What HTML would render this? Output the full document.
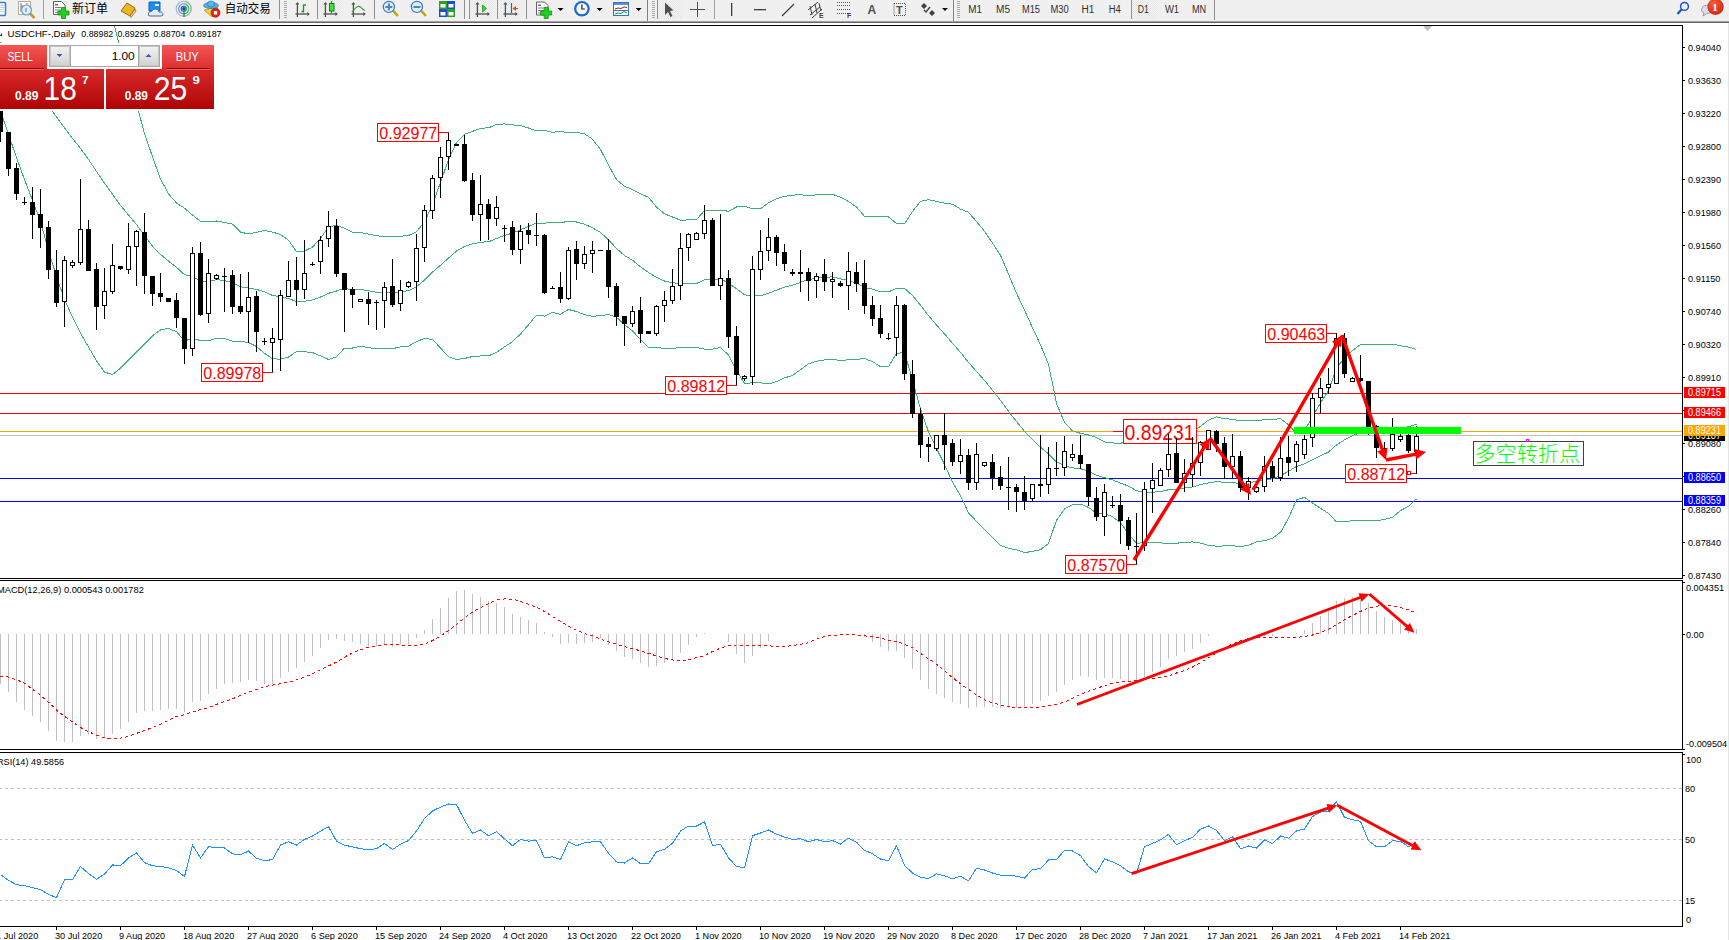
<!DOCTYPE html>
<html><head><meta charset="utf-8"><title>USDCHF Daily</title><style>html,body{margin:0;padding:0;background:#fff;}body{width:1729px;height:940px;overflow:hidden;position:relative;font-family:"Liberation Sans","Noto Sans CJK SC",sans-serif;}</style></head><body>
<svg width="1729" height="940" viewBox="0 0 1729 940" style="position:absolute;left:0;top:0;display:block">
<defs><clipPath id="cm"><rect x="0" y="26" width="1682" height="552"/></clipPath><clipPath id="cmacd"><rect x="0" y="581" width="1682" height="168"/></clipPath><clipPath id="crsi"><rect x="0" y="753" width="1682" height="173"/></clipPath><linearGradient id="gTab" x1="0" y1="0" x2="0" y2="1"><stop offset="0" stop-color="#f45656"/><stop offset="1" stop-color="#dc2e2e"/></linearGradient><linearGradient id="gBig" x1="0" y1="0" x2="0" y2="1"><stop offset="0" stop-color="#d82a2a"/><stop offset="1" stop-color="#b00404"/></linearGradient><linearGradient id="gBtn" x1="0" y1="0" x2="0" y2="1"><stop offset="0" stop-color="#f2f2f2"/><stop offset="1" stop-color="#d2d2d2"/></linearGradient><pattern id="chk" width="2" height="2" patternUnits="userSpaceOnUse"><rect width="2" height="2" fill="#f4f4f4"/><rect width="1" height="1" fill="#e6e6e6"/><rect x="1" y="1" width="1" height="1" fill="#e6e6e6"/></pattern><radialGradient id="gBadge" cx="0.4" cy="0.3" r="0.8"><stop offset="0" stop-color="#f0603a"/><stop offset="1" stop-color="#d01e10"/></radialGradient></defs>
<rect x="0" y="0" width="1729" height="940" fill="#ffffff"/>
<g clip-path="url(#cm)">
<g shape-rendering="crispEdges">
<rect x="0" y="393" width="1682" height="1" fill="#ff0000"/>
<rect x="0" y="413" width="1682" height="1" fill="#ff0000"/>
<rect x="0" y="431" width="1682" height="1" fill="#ffa500"/>
<rect x="0" y="478" width="1682" height="1" fill="#0000ff"/>
<rect x="0" y="501" width="1682" height="1" fill="#0000ff"/>
<rect x="0" y="435" width="1682" height="1" fill="#c0c0c0"/>
</g>
<polyline points="0.5,-259.5 8.5,-239.5 16.5,-219.5 24.5,-199.5 32.5,-179.5 40.5,-159.5 48.5,-139.5 56.5,-119.5 64.5,-99.5 72.5,-79.5 80.5,-59.5 88.5,-39.5 96.5,-19.5 104.5,0.5 112.5,18.5 120.5,49.3 128.5,76.5 136.5,103.5 144.5,133.5 152.5,156.7 160.5,179.0 168.5,193.8 176.5,203.0 184.5,208.2 192.5,215.0 200.5,221.3 208.5,221.5 216.5,221.0 224.5,222.4 232.5,224.1 240.5,232.2 248.5,233.8 256.5,232.3 264.5,230.4 272.5,232.1 280.5,234.5 288.5,240.1 296.5,251.5 304.5,251.0 312.5,247.1 320.5,238.2 328.5,227.0 336.5,225.4 344.5,228.1 352.5,232.2 360.5,232.4 368.5,234.1 376.5,235.7 384.5,236.7 392.5,236.7 400.5,236.3 408.5,235.5 416.5,231.8 424.5,221.8 432.5,204.9 440.5,182.4 448.5,159.7 456.5,142.4 464.5,134.2 472.5,131.4 480.5,128.3 488.5,127.8 496.5,124.5 504.5,123.9 512.5,124.8 520.5,125.7 528.5,128.0 536.5,130.9 544.5,130.4 552.5,132.3 560.5,131.4 568.5,132.9 576.5,132.5 584.5,133.8 592.5,139.2 600.5,149.5 608.5,165.0 616.5,179.5 624.5,186.3 632.5,189.6 640.5,193.9 648.5,197.3 656.5,207.0 664.5,213.8 672.5,217.0 680.5,220.2 688.5,219.9 696.5,219.6 704.5,210.6 712.5,210.6 720.5,210.1 728.5,211.3 736.5,207.0 744.5,206.2 752.5,208.8 760.5,208.8 768.5,202.7 776.5,198.6 784.5,196.4 792.5,195.1 800.5,194.8 808.5,195.5 816.5,194.9 824.5,194.6 832.5,194.3 840.5,197.2 848.5,201.5 856.5,207.0 864.5,216.3 872.5,216.6 880.5,217.0 888.5,216.9 896.5,223.5 904.5,223.9 912.5,211.5 920.5,201.4 928.5,199.6 936.5,201.4 944.5,203.2 952.5,204.2 960.5,209.1 968.5,212.3 976.5,221.5 984.5,231.3 992.5,243.0 1000.5,255.3 1008.5,274.0 1016.5,293.2 1024.5,310.1 1032.5,327.8 1040.5,344.8 1048.5,364.2 1056.5,403.4 1064.5,422.5 1072.5,430.9 1080.5,433.3 1088.5,435.0 1096.5,437.6 1104.5,441.9 1112.5,442.9 1120.5,443.7 1128.5,438.2 1136.5,438.5 1144.5,441.4 1152.5,441.7 1160.5,440.1 1168.5,435.9 1176.5,435.4 1184.5,433.9 1192.5,431.8 1200.5,426.3 1208.5,420.1 1216.5,416.9 1224.5,418.8 1232.5,419.2 1240.5,420.9 1248.5,420.4 1256.5,420.9 1264.5,419.5 1272.5,419.3 1280.5,418.8 1288.5,424.7 1296.5,433.0 1304.5,430.4 1312.5,416.7 1320.5,402.8 1328.5,390.8 1336.5,367.9 1344.5,358.3 1352.5,350.6 1360.5,344.5 1368.5,344.3 1376.5,344.4 1384.5,344.6 1392.5,344.2 1400.5,345.7 1408.5,347.1 1416.5,349.4" fill="none" stroke="#3cb371" stroke-width="1" shape-rendering="crispEdges"/>
<polyline points="0.5,42.5 8.5,53.1 16.5,63.7 24.5,74.3 32.5,84.9 40.5,95.5 48.5,106.1 56.5,116.9 64.5,128.0 72.5,138.4 80.5,148.4 88.5,159.4 96.5,171.5 104.5,183.1 112.5,194.3 120.5,205.4 128.5,215.0 136.5,224.6 144.5,235.6 152.5,246.2 160.5,254.4 168.5,261.1 176.5,267.3 184.5,274.7 192.5,276.6 200.5,281.0 208.5,281.1 216.5,279.7 224.5,280.5 232.5,282.7 240.5,286.8 248.5,288.1 256.5,289.4 264.5,291.9 272.5,295.5 280.5,296.8 288.5,298.5 296.5,301.5 304.5,301.3 312.5,299.9 320.5,297.0 328.5,293.3 336.5,291.0 344.5,288.1 352.5,290.1 360.5,289.3 368.5,290.8 376.5,292.2 384.5,292.8 392.5,292.7 400.5,291.6 408.5,290.8 416.5,286.7 424.5,280.1 432.5,272.1 440.5,265.2 448.5,258.2 456.5,251.0 464.5,246.4 472.5,243.9 480.5,242.2 488.5,241.8 496.5,238.5 504.5,235.4 512.5,233.2 520.5,229.8 528.5,226.4 536.5,223.0 544.5,223.2 552.5,222.4 560.5,222.8 568.5,221.2 576.5,222.0 584.5,224.2 592.5,227.8 600.5,232.5 608.5,239.8 616.5,248.4 624.5,255.5 632.5,260.3 640.5,266.8 648.5,272.5 656.5,277.4 664.5,281.0 672.5,282.8 680.5,283.6 688.5,283.6 696.5,283.5 704.5,279.9 712.5,279.8 720.5,278.8 728.5,283.2 736.5,288.7 744.5,294.8 752.5,295.8 760.5,295.8 768.5,293.3 776.5,290.1 784.5,287.1 792.5,285.3 800.5,282.3 808.5,279.6 816.5,278.1 824.5,277.2 832.5,276.9 840.5,278.8 848.5,280.6 856.5,283.2 864.5,287.4 872.5,289.1 880.5,291.9 888.5,291.9 896.5,288.4 904.5,288.3 912.5,295.6 920.5,305.2 928.5,315.7 936.5,324.9 944.5,333.9 952.5,343.3 960.5,352.4 968.5,362.5 976.5,371.4 984.5,380.4 992.5,390.4 1000.5,400.4 1008.5,411.2 1016.5,421.6 1024.5,431.3 1032.5,439.6 1040.5,447.3 1048.5,453.8 1056.5,461.9 1064.5,465.8 1072.5,467.8 1080.5,468.7 1088.5,471.2 1096.5,475.3 1104.5,477.7 1112.5,479.9 1120.5,483.1 1128.5,486.2 1136.5,490.8 1144.5,492.1 1152.5,492.3 1160.5,491.5 1168.5,489.8 1176.5,489.4 1184.5,488.0 1192.5,486.9 1200.5,484.7 1208.5,482.8 1216.5,481.6 1224.5,482.4 1232.5,482.5 1240.5,483.7 1248.5,482.9 1256.5,481.4 1264.5,480.1 1272.5,478.8 1280.5,475.6 1288.5,471.4 1296.5,466.4 1304.5,463.9 1312.5,459.8 1320.5,455.6 1328.5,452.1 1336.5,444.9 1344.5,439.9 1352.5,435.7 1360.5,432.6 1368.5,432.5 1376.5,432.7 1384.5,431.9 1392.5,430.8 1400.5,428.2 1408.5,426.7 1416.5,424.1" fill="none" stroke="#3cb371" stroke-width="1" shape-rendering="crispEdges"/>
<polyline points="0.5,111.3 8.5,134.4 16.5,157.5 24.5,179.5 32.5,200.4 40.5,221.4 48.5,250.6 56.5,276.6 64.5,299.5 72.5,317.1 80.5,333.0 88.5,347.0 96.5,360.9 104.5,372.1 112.5,374.5 120.5,368.2 128.5,360.2 136.5,352.2 144.5,344.2 152.5,335.8 160.5,329.9 168.5,328.4 176.5,331.7 184.5,341.1 192.5,338.2 200.5,340.6 208.5,340.6 216.5,338.4 224.5,338.5 232.5,341.3 240.5,341.5 248.5,342.5 256.5,346.5 264.5,353.3 272.5,358.9 280.5,359.1 288.5,357.0 296.5,351.5 304.5,351.7 312.5,352.6 320.5,355.9 328.5,359.5 336.5,356.7 344.5,348.0 352.5,348.0 360.5,346.2 368.5,347.6 376.5,348.8 384.5,348.9 392.5,348.7 400.5,346.9 408.5,346.2 416.5,341.5 424.5,338.5 432.5,339.4 440.5,348.0 448.5,356.7 456.5,359.5 464.5,358.5 472.5,356.5 480.5,356.0 488.5,355.9 496.5,352.5 504.5,346.9 512.5,341.6 520.5,333.9 528.5,324.8 536.5,315.1 544.5,316.1 552.5,312.4 560.5,314.3 568.5,309.5 576.5,311.5 584.5,314.7 592.5,316.4 600.5,315.5 608.5,314.6 616.5,317.3 624.5,324.7 632.5,331.0 640.5,339.6 648.5,347.7 656.5,347.8 664.5,348.2 672.5,348.6 680.5,347.1 688.5,347.3 696.5,347.4 704.5,349.2 712.5,349.1 720.5,347.5 728.5,355.0 736.5,370.4 744.5,383.4 752.5,382.8 760.5,382.8 768.5,383.9 776.5,381.6 784.5,377.9 792.5,375.5 800.5,369.7 808.5,363.7 816.5,361.3 824.5,359.9 832.5,359.4 840.5,360.4 848.5,359.8 856.5,359.4 864.5,358.6 872.5,361.5 880.5,366.7 888.5,366.8 896.5,353.3 904.5,352.7 912.5,379.6 920.5,409.1 928.5,431.8 936.5,448.4 944.5,464.6 952.5,482.3 960.5,495.7 968.5,512.8 976.5,521.3 984.5,529.6 992.5,537.8 1000.5,545.5 1008.5,548.3 1016.5,549.9 1024.5,552.6 1032.5,551.4 1040.5,549.7 1048.5,543.4 1056.5,520.4 1064.5,509.0 1072.5,504.6 1080.5,504.1 1088.5,507.4 1096.5,513.1 1104.5,513.4 1112.5,516.8 1120.5,522.5 1128.5,534.2 1136.5,543.1 1144.5,542.9 1152.5,542.9 1160.5,542.9 1168.5,543.7 1176.5,543.3 1184.5,542.1 1192.5,542.0 1200.5,543.1 1208.5,545.4 1216.5,546.2 1224.5,545.9 1232.5,545.8 1240.5,546.5 1248.5,545.4 1256.5,541.8 1264.5,540.7 1272.5,538.2 1280.5,532.4 1288.5,518.2 1296.5,499.8 1304.5,497.4 1312.5,502.9 1320.5,508.4 1328.5,513.4 1336.5,521.9 1344.5,521.6 1352.5,520.7 1360.5,520.7 1368.5,520.6 1376.5,521.0 1384.5,519.3 1392.5,517.4 1400.5,510.6 1408.5,506.2 1416.5,498.9" fill="none" stroke="#3cb371" stroke-width="1" shape-rendering="crispEdges"/>
<rect x="377.5" y="123.5" width="61" height="18" fill="#fff" stroke="#ff0000" stroke-width="1" shape-rendering="crispEdges"/>
<rect x="439" y="132" width="10" height="1" fill="#ff0000" shape-rendering="crispEdges"/>
<text x="379.3" y="139.3" font-size="16.5" fill="#ff0000" textLength="58" lengthAdjust="spacingAndGlyphs" font-family="&quot;Liberation Sans&quot;, sans-serif">0.92977</text>
<rect x="201.5" y="363.5" width="61" height="18" fill="#fff" stroke="#ff0000" stroke-width="1" shape-rendering="crispEdges"/>
<rect x="263" y="372" width="10" height="1" fill="#ff0000" shape-rendering="crispEdges"/>
<text x="203.3" y="379.3" font-size="16.5" fill="#ff0000" textLength="58" lengthAdjust="spacingAndGlyphs" font-family="&quot;Liberation Sans&quot;, sans-serif">0.89978</text>
<rect x="665.5" y="376.5" width="61" height="18" fill="#fff" stroke="#ff0000" stroke-width="1" shape-rendering="crispEdges"/>
<rect x="727" y="385" width="10" height="1" fill="#ff0000" shape-rendering="crispEdges"/>
<text x="667.3" y="392.3" font-size="16.5" fill="#ff0000" textLength="58" lengthAdjust="spacingAndGlyphs" font-family="&quot;Liberation Sans&quot;, sans-serif">0.89812</text>
<rect x="1065.5" y="555.5" width="61" height="18" fill="#fff" stroke="#ff0000" stroke-width="1" shape-rendering="crispEdges"/>
<rect x="1127" y="564" width="10" height="1" fill="#ff0000" shape-rendering="crispEdges"/>
<text x="1067.3" y="571.3" font-size="16.5" fill="#ff0000" textLength="58" lengthAdjust="spacingAndGlyphs" font-family="&quot;Liberation Sans&quot;, sans-serif">0.87570</text>
<rect x="1265.5" y="324.5" width="61" height="18" fill="#fff" stroke="#ff0000" stroke-width="1" shape-rendering="crispEdges"/>
<rect x="1327" y="333" width="10" height="1" fill="#ff0000" shape-rendering="crispEdges"/>
<text x="1267.3" y="340.3" font-size="16.5" fill="#ff0000" textLength="58" lengthAdjust="spacingAndGlyphs" font-family="&quot;Liberation Sans&quot;, sans-serif">0.90463</text>
<rect x="1345.5" y="464.5" width="61" height="18" fill="#fff" stroke="#ff0000" stroke-width="1" shape-rendering="crispEdges"/>
<rect x="1407" y="473" width="10" height="1" fill="#ff0000" shape-rendering="crispEdges"/>
<text x="1347.3" y="480.3" font-size="16.5" fill="#ff0000" textLength="58" lengthAdjust="spacingAndGlyphs" font-family="&quot;Liberation Sans&quot;, sans-serif">0.88712</text>
<rect x="1113" y="431" width="10" height="1" fill="#ff0000" shape-rendering="crispEdges"/>
<rect x="1123.5" y="419.5" width="73" height="24" fill="#fff" stroke="#ff0000" stroke-width="1" shape-rendering="crispEdges"/>
<text x="1124.6" y="440" font-size="21.5" fill="#ff0000" textLength="70" lengthAdjust="spacingAndGlyphs" font-family="&quot;Liberation Sans&quot;, sans-serif">0.89231</text>
<g shape-rendering="crispEdges">
<rect x="0" y="95" width="1" height="47" fill="#000"/>
<rect x="-2" y="100" width="5" height="32" fill="#000"/>
<rect x="8" y="132" width="1" height="44" fill="#000"/>
<rect x="6" y="132" width="5" height="37" fill="#000"/>
<rect x="16" y="163" width="1" height="37" fill="#000"/>
<rect x="14" y="168" width="5" height="26" fill="#000"/>
<rect x="24" y="197" width="1" height="8" fill="#000"/>
<rect x="22" y="202" width="5" height="1" fill="#000"/>
<rect x="32" y="187" width="1" height="52" fill="#000"/>
<rect x="30" y="202" width="5" height="13" fill="#000"/>
<rect x="40" y="189" width="1" height="59" fill="#000"/>
<rect x="38" y="214" width="5" height="14" fill="#000"/>
<rect x="48" y="221" width="1" height="58" fill="#000"/>
<rect x="46" y="227" width="5" height="43" fill="#000"/>
<rect x="56" y="250" width="1" height="57" fill="#000"/>
<rect x="54" y="270" width="5" height="33" fill="#000"/>
<rect x="64" y="256" width="1" height="71" fill="#000"/>
<rect x="62" y="260" width="5" height="42" fill="#000"/><rect x="63" y="261" width="3" height="40" fill="#fff"/>
<rect x="72" y="260" width="1" height="8" fill="#000"/>
<rect x="70" y="262" width="5" height="4" fill="#000"/><rect x="71" y="263" width="3" height="2" fill="#fff"/>
<rect x="80" y="179" width="1" height="86" fill="#000"/>
<rect x="78" y="229" width="5" height="34" fill="#000"/><rect x="79" y="230" width="3" height="32" fill="#fff"/>
<rect x="88" y="220" width="1" height="51" fill="#000"/>
<rect x="86" y="229" width="5" height="42" fill="#000"/>
<rect x="96" y="263" width="1" height="67" fill="#000"/>
<rect x="94" y="269" width="5" height="38" fill="#000"/>
<rect x="104" y="268" width="1" height="51" fill="#000"/>
<rect x="102" y="291" width="5" height="15" fill="#000"/><rect x="103" y="292" width="3" height="13" fill="#fff"/>
<rect x="112" y="244" width="1" height="50" fill="#000"/>
<rect x="110" y="265" width="5" height="27" fill="#000"/><rect x="111" y="266" width="3" height="25" fill="#fff"/>
<rect x="120" y="266" width="1" height="4" fill="#000"/>
<rect x="118" y="266" width="5" height="3" fill="#000"/>
<rect x="128" y="223" width="1" height="51" fill="#000"/>
<rect x="126" y="246" width="5" height="24" fill="#000"/><rect x="127" y="247" width="3" height="22" fill="#fff"/>
<rect x="136" y="230" width="1" height="56" fill="#000"/>
<rect x="134" y="231" width="5" height="16" fill="#000"/><rect x="135" y="232" width="3" height="14" fill="#fff"/>
<rect x="144" y="213" width="1" height="81" fill="#000"/>
<rect x="142" y="232" width="5" height="44" fill="#000"/>
<rect x="152" y="276" width="1" height="30" fill="#000"/>
<rect x="150" y="276" width="5" height="18" fill="#000"/>
<rect x="160" y="273" width="1" height="29" fill="#000"/>
<rect x="158" y="293" width="5" height="4" fill="#000"/>
<rect x="168" y="298" width="1" height="4" fill="#000"/>
<rect x="166" y="298" width="5" height="4" fill="#000"/>
<rect x="176" y="293" width="1" height="35" fill="#000"/>
<rect x="174" y="300" width="5" height="18" fill="#000"/>
<rect x="184" y="318" width="1" height="46" fill="#000"/>
<rect x="182" y="318" width="5" height="31" fill="#000"/>
<rect x="192" y="247" width="1" height="109" fill="#000"/>
<rect x="190" y="253" width="5" height="96" fill="#000"/><rect x="191" y="254" width="3" height="94" fill="#fff"/>
<rect x="200" y="242" width="1" height="74" fill="#000"/>
<rect x="198" y="253" width="5" height="62" fill="#000"/>
<rect x="208" y="259" width="1" height="64" fill="#000"/>
<rect x="206" y="273" width="5" height="41" fill="#000"/><rect x="207" y="274" width="3" height="39" fill="#fff"/>
<rect x="216" y="274" width="1" height="6" fill="#000"/>
<rect x="214" y="275" width="5" height="4" fill="#000"/><rect x="215" y="276" width="3" height="2" fill="#fff"/>
<rect x="224" y="268" width="1" height="44" fill="#000"/>
<rect x="222" y="276" width="5" height="1" fill="#000"/>
<rect x="232" y="270" width="1" height="44" fill="#000"/>
<rect x="230" y="275" width="5" height="32" fill="#000"/>
<rect x="240" y="274" width="1" height="40" fill="#000"/>
<rect x="238" y="306" width="5" height="6" fill="#000"/>
<rect x="248" y="272" width="1" height="71" fill="#000"/>
<rect x="246" y="297" width="5" height="15" fill="#000"/><rect x="247" y="298" width="3" height="13" fill="#fff"/>
<rect x="256" y="291" width="1" height="61" fill="#000"/>
<rect x="254" y="296" width="5" height="36" fill="#000"/>
<rect x="264" y="338" width="1" height="7" fill="#000"/>
<rect x="262" y="341" width="5" height="1" fill="#000"/>
<rect x="272" y="328" width="1" height="44" fill="#000"/>
<rect x="270" y="338" width="5" height="5" fill="#000"/><rect x="271" y="339" width="3" height="3" fill="#fff"/>
<rect x="280" y="290" width="1" height="81" fill="#000"/>
<rect x="278" y="295" width="5" height="45" fill="#000"/><rect x="279" y="296" width="3" height="43" fill="#fff"/>
<rect x="288" y="261" width="1" height="36" fill="#000"/>
<rect x="286" y="280" width="5" height="17" fill="#000"/><rect x="287" y="281" width="3" height="15" fill="#fff"/>
<rect x="296" y="257" width="1" height="49" fill="#000"/>
<rect x="294" y="280" width="5" height="10" fill="#000"/>
<rect x="304" y="240" width="1" height="59" fill="#000"/>
<rect x="302" y="273" width="5" height="17" fill="#000"/><rect x="303" y="274" width="3" height="15" fill="#fff"/>
<rect x="312" y="262" width="1" height="4" fill="#000"/>
<rect x="310" y="264" width="5" height="1" fill="#000"/>
<rect x="320" y="236" width="1" height="38" fill="#000"/>
<rect x="318" y="240" width="5" height="22" fill="#000"/><rect x="319" y="241" width="3" height="20" fill="#fff"/>
<rect x="328" y="211" width="1" height="36" fill="#000"/>
<rect x="326" y="226" width="5" height="13" fill="#000"/><rect x="327" y="227" width="3" height="11" fill="#fff"/>
<rect x="336" y="219" width="1" height="58" fill="#000"/>
<rect x="334" y="226" width="5" height="48" fill="#000"/>
<rect x="344" y="273" width="1" height="59" fill="#000"/>
<rect x="342" y="273" width="5" height="17" fill="#000"/>
<rect x="352" y="287" width="1" height="21" fill="#000"/>
<rect x="350" y="289" width="5" height="6" fill="#000"/>
<rect x="360" y="299" width="1" height="3" fill="#000"/>
<rect x="358" y="299" width="5" height="3" fill="#000"/><rect x="359" y="300" width="3" height="1" fill="#fff"/>
<rect x="368" y="292" width="1" height="33" fill="#000"/>
<rect x="366" y="299" width="5" height="5" fill="#000"/>
<rect x="376" y="300" width="1" height="30" fill="#000"/>
<rect x="374" y="302" width="5" height="1" fill="#000"/>
<rect x="384" y="282" width="1" height="46" fill="#000"/>
<rect x="382" y="287" width="5" height="14" fill="#000"/><rect x="383" y="288" width="3" height="12" fill="#fff"/>
<rect x="392" y="259" width="1" height="48" fill="#000"/>
<rect x="390" y="286" width="5" height="19" fill="#000"/>
<rect x="400" y="280" width="1" height="31" fill="#000"/>
<rect x="398" y="290" width="5" height="14" fill="#000"/><rect x="399" y="291" width="3" height="12" fill="#fff"/>
<rect x="408" y="281" width="1" height="7" fill="#000"/>
<rect x="406" y="282" width="5" height="5" fill="#000"/><rect x="407" y="283" width="3" height="3" fill="#fff"/>
<rect x="416" y="234" width="1" height="67" fill="#000"/>
<rect x="414" y="248" width="5" height="34" fill="#000"/><rect x="415" y="249" width="3" height="32" fill="#fff"/>
<rect x="424" y="205" width="1" height="57" fill="#000"/>
<rect x="422" y="210" width="5" height="38" fill="#000"/><rect x="423" y="211" width="3" height="36" fill="#fff"/>
<rect x="432" y="175" width="1" height="44" fill="#000"/>
<rect x="430" y="178" width="5" height="33" fill="#000"/><rect x="431" y="179" width="3" height="31" fill="#fff"/>
<rect x="440" y="147" width="1" height="51" fill="#000"/>
<rect x="438" y="157" width="5" height="21" fill="#000"/><rect x="439" y="158" width="3" height="19" fill="#fff"/>
<rect x="448" y="133" width="1" height="37" fill="#000"/>
<rect x="446" y="140" width="5" height="17" fill="#000"/><rect x="447" y="141" width="3" height="15" fill="#fff"/>
<rect x="456" y="144" width="1" height="2" fill="#000"/>
<rect x="454" y="144" width="5" height="2" fill="#000"/>
<rect x="464" y="135" width="1" height="47" fill="#000"/>
<rect x="462" y="144" width="5" height="37" fill="#000"/>
<rect x="472" y="173" width="1" height="48" fill="#000"/>
<rect x="470" y="180" width="5" height="35" fill="#000"/>
<rect x="480" y="175" width="1" height="66" fill="#000"/>
<rect x="478" y="204" width="5" height="11" fill="#000"/><rect x="479" y="205" width="3" height="9" fill="#fff"/>
<rect x="488" y="199" width="1" height="41" fill="#000"/>
<rect x="486" y="204" width="5" height="15" fill="#000"/>
<rect x="496" y="196" width="1" height="30" fill="#000"/>
<rect x="494" y="207" width="5" height="12" fill="#000"/><rect x="495" y="208" width="3" height="10" fill="#fff"/>
<rect x="504" y="225" width="1" height="17" fill="#000"/>
<rect x="502" y="228" width="5" height="1" fill="#000"/>
<rect x="512" y="221" width="1" height="34" fill="#000"/>
<rect x="510" y="227" width="5" height="23" fill="#000"/>
<rect x="520" y="225" width="1" height="39" fill="#000"/>
<rect x="518" y="231" width="5" height="19" fill="#000"/><rect x="519" y="232" width="3" height="17" fill="#fff"/>
<rect x="528" y="223" width="1" height="21" fill="#000"/>
<rect x="526" y="230" width="5" height="5" fill="#000"/>
<rect x="536" y="213" width="1" height="33" fill="#000"/>
<rect x="534" y="235" width="5" height="1" fill="#000"/>
<rect x="544" y="234" width="1" height="60" fill="#000"/>
<rect x="542" y="235" width="5" height="58" fill="#000"/>
<rect x="552" y="286" width="1" height="3" fill="#000"/>
<rect x="550" y="288" width="5" height="1" fill="#000"/>
<rect x="560" y="272" width="1" height="31" fill="#000"/>
<rect x="558" y="287" width="5" height="12" fill="#000"/>
<rect x="568" y="247" width="1" height="53" fill="#000"/>
<rect x="566" y="250" width="5" height="49" fill="#000"/><rect x="567" y="251" width="3" height="47" fill="#fff"/>
<rect x="576" y="241" width="1" height="39" fill="#000"/>
<rect x="574" y="249" width="5" height="15" fill="#000"/>
<rect x="584" y="246" width="1" height="23" fill="#000"/>
<rect x="582" y="254" width="5" height="10" fill="#000"/><rect x="583" y="255" width="3" height="8" fill="#fff"/>
<rect x="592" y="241" width="1" height="32" fill="#000"/>
<rect x="590" y="250" width="5" height="4" fill="#000"/><rect x="591" y="251" width="3" height="2" fill="#fff"/>
<rect x="600" y="250" width="1" height="1" fill="#000"/>
<rect x="598" y="250" width="5" height="1" fill="#000"/>
<rect x="608" y="239" width="1" height="59" fill="#000"/>
<rect x="606" y="250" width="5" height="37" fill="#000"/>
<rect x="616" y="283" width="1" height="43" fill="#000"/>
<rect x="614" y="286" width="5" height="31" fill="#000"/>
<rect x="624" y="316" width="1" height="30" fill="#000"/>
<rect x="622" y="316" width="5" height="8" fill="#000"/>
<rect x="632" y="306" width="1" height="21" fill="#000"/>
<rect x="630" y="311" width="5" height="13" fill="#000"/><rect x="631" y="312" width="3" height="11" fill="#fff"/>
<rect x="640" y="297" width="1" height="46" fill="#000"/>
<rect x="638" y="310" width="5" height="24" fill="#000"/>
<rect x="648" y="331" width="1" height="3" fill="#000"/>
<rect x="646" y="331" width="5" height="3" fill="#000"/>
<rect x="656" y="305" width="1" height="31" fill="#000"/>
<rect x="654" y="306" width="5" height="28" fill="#000"/><rect x="655" y="307" width="3" height="26" fill="#fff"/>
<rect x="664" y="291" width="1" height="31" fill="#000"/>
<rect x="662" y="300" width="5" height="6" fill="#000"/><rect x="663" y="301" width="3" height="4" fill="#fff"/>
<rect x="672" y="269" width="1" height="35" fill="#000"/>
<rect x="670" y="286" width="5" height="15" fill="#000"/><rect x="671" y="287" width="3" height="13" fill="#fff"/>
<rect x="680" y="233" width="1" height="67" fill="#000"/>
<rect x="678" y="248" width="5" height="38" fill="#000"/><rect x="679" y="249" width="3" height="36" fill="#fff"/>
<rect x="688" y="233" width="1" height="28" fill="#000"/>
<rect x="686" y="234" width="5" height="14" fill="#000"/><rect x="687" y="235" width="3" height="12" fill="#fff"/>
<rect x="696" y="232" width="1" height="8" fill="#000"/>
<rect x="694" y="233" width="5" height="7" fill="#000"/><rect x="695" y="234" width="3" height="5" fill="#fff"/>
<rect x="704" y="205" width="1" height="34" fill="#000"/>
<rect x="702" y="220" width="5" height="14" fill="#000"/><rect x="703" y="221" width="3" height="12" fill="#fff"/>
<rect x="712" y="218" width="1" height="68" fill="#000"/>
<rect x="710" y="220" width="5" height="66" fill="#000"/>
<rect x="720" y="214" width="1" height="86" fill="#000"/>
<rect x="718" y="278" width="5" height="8" fill="#000"/><rect x="719" y="279" width="3" height="6" fill="#fff"/>
<rect x="728" y="270" width="1" height="78" fill="#000"/>
<rect x="726" y="278" width="5" height="59" fill="#000"/>
<rect x="736" y="326" width="1" height="59" fill="#000"/>
<rect x="734" y="336" width="5" height="39" fill="#000"/>
<rect x="744" y="375" width="1" height="6" fill="#000"/>
<rect x="742" y="376" width="5" height="3" fill="#000"/><rect x="743" y="377" width="3" height="1" fill="#fff"/>
<rect x="752" y="256" width="1" height="129" fill="#000"/>
<rect x="750" y="269" width="5" height="108" fill="#000"/><rect x="751" y="270" width="3" height="106" fill="#fff"/>
<rect x="760" y="230" width="1" height="50" fill="#000"/>
<rect x="758" y="251" width="5" height="19" fill="#000"/><rect x="759" y="252" width="3" height="17" fill="#fff"/>
<rect x="768" y="218" width="1" height="43" fill="#000"/>
<rect x="766" y="237" width="5" height="14" fill="#000"/><rect x="767" y="238" width="3" height="12" fill="#fff"/>
<rect x="776" y="235" width="1" height="31" fill="#000"/>
<rect x="774" y="237" width="5" height="16" fill="#000"/>
<rect x="784" y="244" width="1" height="27" fill="#000"/>
<rect x="782" y="252" width="5" height="12" fill="#000"/>
<rect x="792" y="269" width="1" height="7" fill="#000"/>
<rect x="790" y="272" width="5" height="2" fill="#000"/>
<rect x="800" y="250" width="1" height="42" fill="#000"/>
<rect x="798" y="272" width="5" height="2" fill="#000"/>
<rect x="808" y="268" width="1" height="33" fill="#000"/>
<rect x="806" y="272" width="5" height="9" fill="#000"/>
<rect x="816" y="273" width="1" height="25" fill="#000"/>
<rect x="814" y="276" width="5" height="5" fill="#000"/><rect x="815" y="277" width="3" height="3" fill="#fff"/>
<rect x="824" y="259" width="1" height="32" fill="#000"/>
<rect x="822" y="274" width="5" height="8" fill="#000"/>
<rect x="832" y="272" width="1" height="26" fill="#000"/>
<rect x="830" y="279" width="5" height="3" fill="#000"/><rect x="831" y="280" width="3" height="1" fill="#fff"/>
<rect x="840" y="281" width="1" height="6" fill="#000"/>
<rect x="838" y="283" width="5" height="3" fill="#000"/>
<rect x="848" y="252" width="1" height="58" fill="#000"/>
<rect x="846" y="271" width="5" height="15" fill="#000"/><rect x="847" y="272" width="3" height="13" fill="#fff"/>
<rect x="856" y="262" width="1" height="30" fill="#000"/>
<rect x="854" y="272" width="5" height="12" fill="#000"/>
<rect x="864" y="260" width="1" height="54" fill="#000"/>
<rect x="862" y="283" width="5" height="23" fill="#000"/>
<rect x="872" y="296" width="1" height="30" fill="#000"/>
<rect x="870" y="305" width="5" height="14" fill="#000"/>
<rect x="880" y="305" width="1" height="33" fill="#000"/>
<rect x="878" y="318" width="5" height="16" fill="#000"/>
<rect x="888" y="333" width="1" height="7" fill="#000"/>
<rect x="886" y="338" width="5" height="1" fill="#000"/>
<rect x="896" y="296" width="1" height="60" fill="#000"/>
<rect x="894" y="305" width="5" height="33" fill="#000"/><rect x="895" y="306" width="3" height="31" fill="#fff"/>
<rect x="904" y="304" width="1" height="76" fill="#000"/>
<rect x="902" y="305" width="5" height="69" fill="#000"/>
<rect x="912" y="360" width="1" height="58" fill="#000"/>
<rect x="910" y="374" width="5" height="40" fill="#000"/>
<rect x="920" y="408" width="1" height="50" fill="#000"/>
<rect x="918" y="414" width="5" height="31" fill="#000"/>
<rect x="928" y="437" width="1" height="25" fill="#000"/>
<rect x="926" y="444" width="5" height="3" fill="#000"/>
<rect x="936" y="435" width="1" height="16" fill="#000"/>
<rect x="934" y="435" width="5" height="14" fill="#000"/><rect x="935" y="436" width="3" height="12" fill="#fff"/>
<rect x="944" y="413" width="1" height="57" fill="#000"/>
<rect x="942" y="435" width="5" height="10" fill="#000"/>
<rect x="952" y="439" width="1" height="27" fill="#000"/>
<rect x="950" y="443" width="5" height="19" fill="#000"/>
<rect x="960" y="439" width="1" height="35" fill="#000"/>
<rect x="958" y="455" width="5" height="7" fill="#000"/><rect x="959" y="456" width="3" height="5" fill="#fff"/>
<rect x="968" y="449" width="1" height="41" fill="#000"/>
<rect x="966" y="455" width="5" height="28" fill="#000"/>
<rect x="976" y="443" width="1" height="47" fill="#000"/>
<rect x="974" y="454" width="5" height="29" fill="#000"/><rect x="975" y="455" width="3" height="27" fill="#fff"/>
<rect x="984" y="462" width="1" height="5" fill="#000"/>
<rect x="982" y="462" width="5" height="4" fill="#000"/><rect x="983" y="463" width="3" height="2" fill="#fff"/>
<rect x="992" y="454" width="1" height="36" fill="#000"/>
<rect x="990" y="462" width="5" height="16" fill="#000"/>
<rect x="1000" y="466" width="1" height="24" fill="#000"/>
<rect x="998" y="477" width="5" height="9" fill="#000"/>
<rect x="1008" y="457" width="1" height="53" fill="#000"/>
<rect x="1006" y="487" width="5" height="1" fill="#000"/>
<rect x="1016" y="484" width="1" height="28" fill="#000"/>
<rect x="1014" y="487" width="5" height="5" fill="#000"/>
<rect x="1024" y="476" width="1" height="34" fill="#000"/>
<rect x="1022" y="492" width="5" height="9" fill="#000"/>
<rect x="1032" y="484" width="1" height="17" fill="#000"/>
<rect x="1030" y="484" width="5" height="15" fill="#000"/><rect x="1031" y="485" width="3" height="13" fill="#fff"/>
<rect x="1040" y="435" width="1" height="62" fill="#000"/>
<rect x="1038" y="484" width="5" height="2" fill="#000"/>
<rect x="1048" y="447" width="1" height="47" fill="#000"/>
<rect x="1046" y="468" width="5" height="17" fill="#000"/><rect x="1047" y="469" width="3" height="15" fill="#fff"/>
<rect x="1056" y="442" width="1" height="34" fill="#000"/>
<rect x="1054" y="468" width="5" height="1" fill="#000"/>
<rect x="1064" y="436" width="1" height="40" fill="#000"/>
<rect x="1062" y="451" width="5" height="17" fill="#000"/><rect x="1063" y="452" width="3" height="15" fill="#fff"/>
<rect x="1072" y="444" width="1" height="17" fill="#000"/>
<rect x="1070" y="454" width="5" height="4" fill="#000"/><rect x="1071" y="455" width="3" height="2" fill="#fff"/>
<rect x="1080" y="435" width="1" height="34" fill="#000"/>
<rect x="1078" y="455" width="5" height="9" fill="#000"/>
<rect x="1088" y="464" width="1" height="42" fill="#000"/>
<rect x="1086" y="464" width="5" height="33" fill="#000"/>
<rect x="1096" y="487" width="1" height="34" fill="#000"/>
<rect x="1094" y="498" width="5" height="19" fill="#000"/>
<rect x="1104" y="484" width="1" height="52" fill="#000"/>
<rect x="1102" y="492" width="5" height="25" fill="#000"/><rect x="1103" y="493" width="3" height="23" fill="#fff"/>
<rect x="1112" y="496" width="1" height="12" fill="#000"/>
<rect x="1110" y="505" width="5" height="1" fill="#000"/>
<rect x="1120" y="494" width="1" height="50" fill="#000"/>
<rect x="1118" y="505" width="5" height="16" fill="#000"/>
<rect x="1128" y="517" width="1" height="33" fill="#000"/>
<rect x="1126" y="520" width="5" height="26" fill="#000"/>
<rect x="1136" y="513" width="1" height="51" fill="#000"/>
<rect x="1134" y="546" width="5" height="1" fill="#000"/>
<rect x="1144" y="482" width="1" height="69" fill="#000"/>
<rect x="1142" y="489" width="5" height="57" fill="#000"/><rect x="1143" y="490" width="3" height="55" fill="#fff"/>
<rect x="1152" y="463" width="1" height="50" fill="#000"/>
<rect x="1150" y="480" width="5" height="9" fill="#000"/><rect x="1151" y="481" width="3" height="7" fill="#fff"/>
<rect x="1160" y="468" width="1" height="18" fill="#000"/>
<rect x="1158" y="470" width="5" height="16" fill="#000"/><rect x="1159" y="471" width="3" height="14" fill="#fff"/>
<rect x="1168" y="434" width="1" height="43" fill="#000"/>
<rect x="1166" y="454" width="5" height="16" fill="#000"/><rect x="1167" y="455" width="3" height="14" fill="#fff"/>
<rect x="1176" y="438" width="1" height="45" fill="#000"/>
<rect x="1174" y="453" width="5" height="30" fill="#000"/>
<rect x="1184" y="459" width="1" height="33" fill="#000"/>
<rect x="1182" y="473" width="5" height="10" fill="#000"/><rect x="1183" y="474" width="3" height="8" fill="#fff"/>
<rect x="1192" y="437" width="1" height="50" fill="#000"/>
<rect x="1190" y="463" width="5" height="12" fill="#000"/><rect x="1191" y="464" width="3" height="10" fill="#fff"/>
<rect x="1200" y="441" width="1" height="35" fill="#000"/>
<rect x="1198" y="442" width="5" height="21" fill="#000"/><rect x="1199" y="443" width="3" height="19" fill="#fff"/>
<rect x="1208" y="430" width="1" height="20" fill="#000"/>
<rect x="1206" y="430" width="5" height="20" fill="#000"/><rect x="1207" y="431" width="3" height="18" fill="#fff"/>
<rect x="1216" y="430" width="1" height="22" fill="#000"/>
<rect x="1214" y="431" width="5" height="13" fill="#000"/>
<rect x="1224" y="437" width="1" height="42" fill="#000"/>
<rect x="1222" y="443" width="5" height="24" fill="#000"/>
<rect x="1232" y="434" width="1" height="44" fill="#000"/>
<rect x="1230" y="456" width="5" height="11" fill="#000"/><rect x="1231" y="457" width="3" height="9" fill="#fff"/>
<rect x="1240" y="451" width="1" height="41" fill="#000"/>
<rect x="1238" y="456" width="5" height="32" fill="#000"/>
<rect x="1248" y="477" width="1" height="23" fill="#000"/>
<rect x="1246" y="481" width="5" height="7" fill="#000"/><rect x="1247" y="482" width="3" height="5" fill="#fff"/>
<rect x="1256" y="484" width="1" height="9" fill="#000"/>
<rect x="1254" y="487" width="5" height="5" fill="#000"/><rect x="1255" y="488" width="3" height="3" fill="#fff"/>
<rect x="1264" y="456" width="1" height="36" fill="#000"/>
<rect x="1262" y="466" width="5" height="21" fill="#000"/><rect x="1263" y="467" width="3" height="19" fill="#fff"/>
<rect x="1272" y="461" width="1" height="21" fill="#000"/>
<rect x="1270" y="466" width="5" height="12" fill="#000"/>
<rect x="1280" y="437" width="1" height="44" fill="#000"/>
<rect x="1278" y="458" width="5" height="20" fill="#000"/><rect x="1279" y="459" width="3" height="18" fill="#fff"/>
<rect x="1288" y="436" width="1" height="40" fill="#000"/>
<rect x="1286" y="457" width="5" height="6" fill="#000"/>
<rect x="1296" y="441" width="1" height="31" fill="#000"/>
<rect x="1294" y="444" width="5" height="18" fill="#000"/><rect x="1295" y="445" width="3" height="16" fill="#fff"/>
<rect x="1304" y="435" width="1" height="24" fill="#000"/>
<rect x="1302" y="439" width="5" height="16" fill="#000"/><rect x="1303" y="440" width="3" height="14" fill="#fff"/>
<rect x="1312" y="393" width="1" height="54" fill="#000"/>
<rect x="1310" y="398" width="5" height="40" fill="#000"/><rect x="1311" y="399" width="3" height="38" fill="#fff"/>
<rect x="1320" y="378" width="1" height="35" fill="#000"/>
<rect x="1318" y="388" width="5" height="10" fill="#000"/><rect x="1319" y="389" width="3" height="8" fill="#fff"/>
<rect x="1328" y="368" width="1" height="26" fill="#000"/>
<rect x="1326" y="384" width="5" height="4" fill="#000"/><rect x="1327" y="385" width="3" height="2" fill="#fff"/>
<rect x="1336" y="333" width="1" height="51" fill="#000"/>
<rect x="1334" y="338" width="5" height="46" fill="#000"/><rect x="1335" y="339" width="3" height="44" fill="#fff"/>
<rect x="1344" y="333" width="1" height="45" fill="#000"/>
<rect x="1342" y="338" width="5" height="36" fill="#000"/>
<rect x="1352" y="377" width="1" height="5" fill="#000"/>
<rect x="1350" y="378" width="5" height="4" fill="#000"/><rect x="1351" y="379" width="3" height="2" fill="#fff"/>
<rect x="1360" y="355" width="1" height="27" fill="#000"/>
<rect x="1358" y="378" width="5" height="3" fill="#000"/>
<rect x="1368" y="381" width="1" height="54" fill="#000"/>
<rect x="1366" y="381" width="5" height="46" fill="#000"/>
<rect x="1376" y="425" width="1" height="33" fill="#000"/>
<rect x="1374" y="426" width="5" height="22" fill="#000"/>
<rect x="1384" y="442" width="1" height="10" fill="#000"/>
<rect x="1382" y="448" width="5" height="3" fill="#000"/>
<rect x="1392" y="418" width="1" height="33" fill="#000"/>
<rect x="1390" y="434" width="5" height="15" fill="#000"/><rect x="1391" y="435" width="3" height="13" fill="#fff"/>
<rect x="1400" y="434" width="1" height="8" fill="#000"/>
<rect x="1398" y="436" width="5" height="4" fill="#000"/><rect x="1399" y="437" width="3" height="2" fill="#fff"/>
<rect x="1408" y="434" width="1" height="19" fill="#000"/>
<rect x="1406" y="435" width="5" height="16" fill="#000"/>
<rect x="1416" y="426" width="1" height="48" fill="#000"/>
<rect x="1414" y="436" width="5" height="16" fill="#000"/><rect x="1415" y="437" width="3" height="14" fill="#fff"/>
</g>
</g>
<g clip-path="url(#cmacd)" shape-rendering="crispEdges">
<rect x="0" y="634" width="1" height="50" fill="#c0c0c0"/>
<rect x="8" y="634" width="1" height="58" fill="#c0c0c0"/>
<rect x="16" y="634" width="1" height="68" fill="#c0c0c0"/>
<rect x="24" y="634" width="1" height="76" fill="#c0c0c0"/>
<rect x="32" y="634" width="1" height="82" fill="#c0c0c0"/>
<rect x="40" y="634" width="1" height="88" fill="#c0c0c0"/>
<rect x="48" y="634" width="1" height="97" fill="#c0c0c0"/>
<rect x="56" y="634" width="1" height="107" fill="#c0c0c0"/>
<rect x="64" y="634" width="1" height="108" fill="#c0c0c0"/>
<rect x="72" y="634" width="1" height="108" fill="#c0c0c0"/>
<rect x="80" y="634" width="1" height="102" fill="#c0c0c0"/>
<rect x="88" y="634" width="1" height="101" fill="#c0c0c0"/>
<rect x="96" y="634" width="1" height="105" fill="#c0c0c0"/>
<rect x="104" y="634" width="1" height="104" fill="#c0c0c0"/>
<rect x="112" y="634" width="1" height="100" fill="#c0c0c0"/>
<rect x="120" y="634" width="1" height="95" fill="#c0c0c0"/>
<rect x="128" y="634" width="1" height="88" fill="#c0c0c0"/>
<rect x="136" y="634" width="1" height="79" fill="#c0c0c0"/>
<rect x="144" y="634" width="1" height="77" fill="#c0c0c0"/>
<rect x="152" y="634" width="1" height="77" fill="#c0c0c0"/>
<rect x="160" y="634" width="1" height="76" fill="#c0c0c0"/>
<rect x="168" y="634" width="1" height="75" fill="#c0c0c0"/>
<rect x="176" y="634" width="1" height="75" fill="#c0c0c0"/>
<rect x="184" y="634" width="1" height="78" fill="#c0c0c0"/>
<rect x="192" y="634" width="1" height="68" fill="#c0c0c0"/>
<rect x="200" y="634" width="1" height="67" fill="#c0c0c0"/>
<rect x="208" y="634" width="1" height="60" fill="#c0c0c0"/>
<rect x="216" y="634" width="1" height="55" fill="#c0c0c0"/>
<rect x="224" y="634" width="1" height="50" fill="#c0c0c0"/>
<rect x="232" y="634" width="1" height="49" fill="#c0c0c0"/>
<rect x="240" y="634" width="1" height="48" fill="#c0c0c0"/>
<rect x="248" y="634" width="1" height="46" fill="#c0c0c0"/>
<rect x="256" y="634" width="1" height="47" fill="#c0c0c0"/>
<rect x="264" y="634" width="1" height="50" fill="#c0c0c0"/>
<rect x="272" y="634" width="1" height="50" fill="#c0c0c0"/>
<rect x="280" y="634" width="1" height="44" fill="#c0c0c0"/>
<rect x="288" y="634" width="1" height="38" fill="#c0c0c0"/>
<rect x="296" y="634" width="1" height="34" fill="#c0c0c0"/>
<rect x="304" y="634" width="1" height="28" fill="#c0c0c0"/>
<rect x="312" y="634" width="1" height="22" fill="#c0c0c0"/>
<rect x="320" y="634" width="1" height="14" fill="#c0c0c0"/>
<rect x="328" y="634" width="1" height="6" fill="#c0c0c0"/>
<rect x="336" y="634" width="1" height="5" fill="#c0c0c0"/>
<rect x="344" y="634" width="1" height="7" fill="#c0c0c0"/>
<rect x="352" y="634" width="1" height="8" fill="#c0c0c0"/>
<rect x="360" y="634" width="1" height="10" fill="#c0c0c0"/>
<rect x="368" y="634" width="1" height="12" fill="#c0c0c0"/>
<rect x="376" y="634" width="1" height="12" fill="#c0c0c0"/>
<rect x="384" y="634" width="1" height="10" fill="#c0c0c0"/>
<rect x="392" y="634" width="1" height="13" fill="#c0c0c0"/>
<rect x="400" y="634" width="1" height="10" fill="#c0c0c0"/>
<rect x="408" y="634" width="1" height="10" fill="#c0c0c0"/>
<rect x="416" y="634" width="1" height="4" fill="#c0c0c0"/>
<rect x="424" y="630" width="1" height="4" fill="#c0c0c0"/>
<rect x="432" y="619" width="1" height="15" fill="#c0c0c0"/>
<rect x="440" y="608" width="1" height="26" fill="#c0c0c0"/>
<rect x="448" y="598" width="1" height="36" fill="#c0c0c0"/>
<rect x="456" y="591" width="1" height="43" fill="#c0c0c0"/>
<rect x="464" y="590" width="1" height="44" fill="#c0c0c0"/>
<rect x="472" y="594" width="1" height="40" fill="#c0c0c0"/>
<rect x="480" y="597" width="1" height="37" fill="#c0c0c0"/>
<rect x="488" y="601" width="1" height="33" fill="#c0c0c0"/>
<rect x="496" y="603" width="1" height="31" fill="#c0c0c0"/>
<rect x="504" y="607" width="1" height="27" fill="#c0c0c0"/>
<rect x="512" y="614" width="1" height="20" fill="#c0c0c0"/>
<rect x="520" y="617" width="1" height="17" fill="#c0c0c0"/>
<rect x="528" y="620" width="1" height="14" fill="#c0c0c0"/>
<rect x="536" y="623" width="1" height="11" fill="#c0c0c0"/>
<rect x="544" y="632" width="1" height="2" fill="#c0c0c0"/>
<rect x="552" y="634" width="1" height="3" fill="#c0c0c0"/>
<rect x="560" y="634" width="1" height="10" fill="#c0c0c0"/>
<rect x="568" y="634" width="1" height="9" fill="#c0c0c0"/>
<rect x="576" y="634" width="1" height="10" fill="#c0c0c0"/>
<rect x="584" y="634" width="1" height="9" fill="#c0c0c0"/>
<rect x="592" y="634" width="1" height="8" fill="#c0c0c0"/>
<rect x="600" y="634" width="1" height="4" fill="#c0c0c0"/>
<rect x="608" y="634" width="1" height="11" fill="#c0c0c0"/>
<rect x="616" y="634" width="1" height="17" fill="#c0c0c0"/>
<rect x="624" y="634" width="1" height="23" fill="#c0c0c0"/>
<rect x="632" y="634" width="1" height="25" fill="#c0c0c0"/>
<rect x="640" y="634" width="1" height="29" fill="#c0c0c0"/>
<rect x="648" y="634" width="1" height="33" fill="#c0c0c0"/>
<rect x="656" y="634" width="1" height="32" fill="#c0c0c0"/>
<rect x="664" y="634" width="1" height="29" fill="#c0c0c0"/>
<rect x="672" y="634" width="1" height="25" fill="#c0c0c0"/>
<rect x="680" y="634" width="1" height="19" fill="#c0c0c0"/>
<rect x="688" y="634" width="1" height="11" fill="#c0c0c0"/>
<rect x="696" y="634" width="1" height="3" fill="#c0c0c0"/>
<rect x="704" y="633" width="1" height="1" fill="#c0c0c0"/>
<rect x="728" y="634" width="1" height="8" fill="#c0c0c0"/>
<rect x="736" y="634" width="1" height="20" fill="#c0c0c0"/>
<rect x="744" y="634" width="1" height="29" fill="#c0c0c0"/>
<rect x="752" y="634" width="1" height="22" fill="#c0c0c0"/>
<rect x="760" y="634" width="1" height="14" fill="#c0c0c0"/>
<rect x="768" y="634" width="1" height="7" fill="#c0c0c0"/>
<rect x="864" y="634" width="1" height="3" fill="#c0c0c0"/>
<rect x="872" y="634" width="1" height="8" fill="#c0c0c0"/>
<rect x="880" y="634" width="1" height="13" fill="#c0c0c0"/>
<rect x="888" y="634" width="1" height="17" fill="#c0c0c0"/>
<rect x="896" y="634" width="1" height="17" fill="#c0c0c0"/>
<rect x="904" y="634" width="1" height="24" fill="#c0c0c0"/>
<rect x="912" y="634" width="1" height="35" fill="#c0c0c0"/>
<rect x="920" y="634" width="1" height="46" fill="#c0c0c0"/>
<rect x="928" y="634" width="1" height="55" fill="#c0c0c0"/>
<rect x="936" y="634" width="1" height="60" fill="#c0c0c0"/>
<rect x="944" y="634" width="1" height="64" fill="#c0c0c0"/>
<rect x="952" y="634" width="1" height="68" fill="#c0c0c0"/>
<rect x="960" y="634" width="1" height="70" fill="#c0c0c0"/>
<rect x="968" y="634" width="1" height="74" fill="#c0c0c0"/>
<rect x="976" y="634" width="1" height="73" fill="#c0c0c0"/>
<rect x="984" y="634" width="1" height="73" fill="#c0c0c0"/>
<rect x="992" y="634" width="1" height="73" fill="#c0c0c0"/>
<rect x="1000" y="634" width="1" height="74" fill="#c0c0c0"/>
<rect x="1008" y="634" width="1" height="74" fill="#c0c0c0"/>
<rect x="1016" y="634" width="1" height="74" fill="#c0c0c0"/>
<rect x="1024" y="634" width="1" height="72" fill="#c0c0c0"/>
<rect x="1032" y="634" width="1" height="70" fill="#c0c0c0"/>
<rect x="1040" y="634" width="1" height="67" fill="#c0c0c0"/>
<rect x="1048" y="634" width="1" height="62" fill="#c0c0c0"/>
<rect x="1056" y="634" width="1" height="58" fill="#c0c0c0"/>
<rect x="1064" y="634" width="1" height="51" fill="#c0c0c0"/>
<rect x="1072" y="634" width="1" height="46" fill="#c0c0c0"/>
<rect x="1080" y="634" width="1" height="42" fill="#c0c0c0"/>
<rect x="1088" y="634" width="1" height="43" fill="#c0c0c0"/>
<rect x="1096" y="634" width="1" height="46" fill="#c0c0c0"/>
<rect x="1104" y="634" width="1" height="44" fill="#c0c0c0"/>
<rect x="1112" y="634" width="1" height="44" fill="#c0c0c0"/>
<rect x="1120" y="634" width="1" height="45" fill="#c0c0c0"/>
<rect x="1128" y="634" width="1" height="48" fill="#c0c0c0"/>
<rect x="1136" y="634" width="1" height="46" fill="#c0c0c0"/>
<rect x="1144" y="634" width="1" height="43" fill="#c0c0c0"/>
<rect x="1152" y="634" width="1" height="38" fill="#c0c0c0"/>
<rect x="1160" y="634" width="1" height="33" fill="#c0c0c0"/>
<rect x="1168" y="634" width="1" height="25" fill="#c0c0c0"/>
<rect x="1176" y="634" width="1" height="22" fill="#c0c0c0"/>
<rect x="1184" y="634" width="1" height="18" fill="#c0c0c0"/>
<rect x="1192" y="634" width="1" height="15" fill="#c0c0c0"/>
<rect x="1200" y="634" width="1" height="9" fill="#c0c0c0"/>
<rect x="1208" y="634" width="1" height="2" fill="#c0c0c0"/>
<rect x="1264" y="634" width="1" height="2" fill="#c0c0c0"/>
<rect x="1272" y="634" width="1" height="2" fill="#c0c0c0"/>
<rect x="1296" y="633" width="1" height="1" fill="#c0c0c0"/>
<rect x="1304" y="630" width="1" height="4" fill="#c0c0c0"/>
<rect x="1312" y="623" width="1" height="11" fill="#c0c0c0"/>
<rect x="1320" y="616" width="1" height="18" fill="#c0c0c0"/>
<rect x="1328" y="611" width="1" height="23" fill="#c0c0c0"/>
<rect x="1336" y="601" width="1" height="33" fill="#c0c0c0"/>
<rect x="1344" y="598" width="1" height="36" fill="#c0c0c0"/>
<rect x="1352" y="597" width="1" height="37" fill="#c0c0c0"/>
<rect x="1360" y="600" width="1" height="34" fill="#c0c0c0"/>
<rect x="1368" y="603" width="1" height="31" fill="#c0c0c0"/>
<rect x="1376" y="611" width="1" height="23" fill="#c0c0c0"/>
<rect x="1384" y="617" width="1" height="17" fill="#c0c0c0"/>
<rect x="1392" y="620" width="1" height="14" fill="#c0c0c0"/>
<rect x="1400" y="623" width="1" height="11" fill="#c0c0c0"/>
<rect x="1408" y="628" width="1" height="6" fill="#c0c0c0"/>
<rect x="1416" y="629" width="1" height="5" fill="#c0c0c0"/>
</g>
<g clip-path="url(#cmacd)">
<polyline points="0.5,676.1 8.5,677.1 16.5,679.8 24.5,683.1 32.5,689.2 40.5,695.4 48.5,702.2 56.5,710.2 64.5,716.3 72.5,721.9 80.5,727.5 88.5,731.7 96.5,735.2 104.5,737.9 112.5,738.5 120.5,738.2 128.5,736.4 136.5,733.4 144.5,730.5 152.5,727.5 160.5,724.3 168.5,720.1 176.5,716.5 184.5,714.6 192.5,712.0 200.5,709.6 208.5,707.8 216.5,704.4 224.5,701.5 232.5,699.0 240.5,695.2 248.5,692.2 256.5,689.5 264.5,686.8 272.5,685.1 280.5,683.7 288.5,682.1 296.5,679.9 304.5,677.2 312.5,673.9 320.5,669.9 328.5,666.0 336.5,662.0 344.5,657.1 352.5,653.0 360.5,649.6 368.5,647.4 376.5,645.8 384.5,644.7 392.5,644.1 400.5,644.9 408.5,646.0 416.5,645.5 424.5,644.0 432.5,640.6 440.5,636.2 448.5,630.6 456.5,624.2 464.5,617.9 472.5,611.9 480.5,607.6 488.5,603.6 496.5,600.1 504.5,598.9 512.5,599.1 520.5,601.3 528.5,604.3 536.5,607.1 544.5,611.6 552.5,616.5 560.5,621.5 568.5,626.3 576.5,630.2 584.5,633.5 592.5,635.8 600.5,639.0 608.5,641.8 616.5,644.2 624.5,646.6 632.5,648.7 640.5,650.8 648.5,653.3 656.5,656.0 664.5,658.4 672.5,660.0 680.5,660.9 688.5,659.5 696.5,657.7 704.5,655.6 712.5,651.5 720.5,648.2 728.5,645.6 736.5,645.0 744.5,645.0 752.5,645.2 760.5,645.5 768.5,645.9 776.5,646.3 784.5,646.7 792.5,645.5 800.5,644.2 808.5,642.8 816.5,638.8 824.5,636.5 832.5,635.5 840.5,635.0 848.5,634.9 856.5,634.9 864.5,635.8 872.5,636.7 880.5,638.0 888.5,640.1 896.5,641.7 904.5,644.2 912.5,647.8 920.5,653.4 928.5,658.8 936.5,664.3 944.5,671.0 952.5,677.5 960.5,683.8 968.5,689.4 976.5,694.9 984.5,699.7 992.5,702.9 1000.5,704.9 1008.5,706.5 1016.5,707.7 1024.5,707.7 1032.5,707.5 1040.5,707.1 1048.5,705.8 1056.5,704.3 1064.5,702.1 1072.5,698.1 1080.5,694.5 1088.5,691.2 1096.5,688.4 1104.5,685.6 1112.5,683.4 1120.5,681.8 1128.5,681.3 1136.5,680.2 1144.5,678.7 1152.5,678.3 1160.5,677.7 1168.5,676.0 1176.5,673.0 1184.5,670.5 1192.5,667.0 1200.5,662.6 1208.5,657.7 1216.5,653.0 1224.5,648.2 1232.5,644.0 1240.5,640.8 1248.5,638.5 1256.5,637.5 1264.5,637.5 1272.5,637.5 1280.5,637.5 1288.5,637.5 1296.5,637.3 1304.5,636.6 1312.5,635.0 1320.5,632.4 1328.5,629.2 1336.5,624.4 1344.5,619.6 1352.5,615.5 1360.5,611.4 1368.5,608.1 1376.5,606.1 1384.5,605.5 1392.5,605.7 1400.5,607.6 1408.5,609.9 1416.5,612.8" fill="none" stroke="#ff0000" stroke-width="1" stroke-dasharray="3 3" shape-rendering="crispEdges"/>
</g>
<g clip-path="url(#crsi)">
<line x1="-1" y1="788.5" x2="1682" y2="788.5" stroke="#c0c0c0" stroke-width="1" stroke-dasharray="3 3" shape-rendering="crispEdges"/>
<line x1="-1" y1="839.5" x2="1682" y2="839.5" stroke="#c0c0c0" stroke-width="1" stroke-dasharray="3 3" shape-rendering="crispEdges"/>
<line x1="-1" y1="900.5" x2="1682" y2="900.5" stroke="#c0c0c0" stroke-width="1" stroke-dasharray="3 3" shape-rendering="crispEdges"/>
<polyline points="0.5,874.6 8.5,880.4 16.5,884.6 24.5,885.7 32.5,887.6 40.5,889.6 48.5,894.3 56.5,897.7 64.5,879.7 72.5,879.7 80.5,866.5 88.5,873.5 96.5,879.2 104.5,874.1 112.5,864.9 120.5,865.8 128.5,857.9 136.5,852.9 144.5,862.6 152.5,865.8 160.5,866.5 168.5,867.7 176.5,870.4 184.5,876.5 192.5,845.0 200.5,857.9 208.5,846.8 216.5,847.5 224.5,848.0 232.5,853.8 240.5,854.9 248.5,851.0 256.5,858.4 264.5,860.7 272.5,859.6 280.5,845.0 288.5,841.8 296.5,845.0 304.5,839.4 312.5,836.0 320.5,831.1 328.5,826.7 336.5,841.1 344.5,845.2 352.5,846.8 360.5,848.7 368.5,849.6 376.5,848.7 384.5,843.4 392.5,849.6 400.5,844.1 408.5,840.6 416.5,831.1 424.5,818.6 432.5,811.0 440.5,807.1 448.5,804.0 456.5,804.7 464.5,820.2 472.5,833.4 480.5,830.0 488.5,835.7 496.5,831.8 504.5,838.7 512.5,845.7 520.5,839.4 528.5,841.1 536.5,840.6 544.5,857.9 552.5,856.8 560.5,859.6 568.5,841.8 576.5,845.7 584.5,842.9 592.5,841.8 600.5,841.8 608.5,853.3 616.5,861.9 624.5,863.0 632.5,857.9 640.5,863.7 648.5,863.7 656.5,851.9 664.5,849.2 672.5,843.4 680.5,831.1 688.5,826.0 696.5,826.0 704.5,821.9 712.5,845.7 720.5,844.1 728.5,857.9 736.5,866.5 744.5,867.7 752.5,835.7 760.5,833.0 768.5,830.0 776.5,834.1 784.5,837.1 792.5,839.4 800.5,838.7 808.5,841.8 816.5,839.4 824.5,841.8 832.5,840.6 840.5,844.1 848.5,838.1 856.5,842.2 864.5,850.3 872.5,853.8 880.5,859.1 888.5,860.7 896.5,845.7 904.5,865.4 912.5,873.0 920.5,877.4 928.5,878.5 936.5,873.9 944.5,875.8 952.5,878.8 960.5,876.2 968.5,880.9 976.5,868.1 984.5,870.0 992.5,873.0 1000.5,875.1 1008.5,875.1 1016.5,876.2 1024.5,878.1 1032.5,869.3 1040.5,868.8 1048.5,860.0 1056.5,859.6 1064.5,850.3 1072.5,851.0 1080.5,855.6 1088.5,866.5 1096.5,872.8 1104.5,858.9 1112.5,861.9 1120.5,865.8 1128.5,871.8 1136.5,873.5 1144.5,846.8 1152.5,843.4 1160.5,839.9 1168.5,834.4 1176.5,844.8 1184.5,840.8 1192.5,837.3 1200.5,829.2 1208.5,826.0 1216.5,830.4 1224.5,840.8 1232.5,836.8 1240.5,848.9 1248.5,846.0 1256.5,848.1 1264.5,839.9 1272.5,843.7 1280.5,835.9 1288.5,838.2 1296.5,830.9 1304.5,829.0 1312.5,816.5 1320.5,812.1 1328.5,811.3 1336.5,801.7 1344.5,817.4 1352.5,819.6 1360.5,821.3 1368.5,840.8 1376.5,846.8 1384.5,846.8 1392.5,840.8 1400.5,841.3 1408.5,846.8 1416.5,841.6" fill="none" stroke="#1e90ff" stroke-width="1" shape-rendering="crispEdges"/>
</g>
<g shape-rendering="crispEdges" fill="#000">
<rect x="0" y="25" width="1683" height="1"/>
<rect x="0" y="578" width="1683" height="1"/>
<rect x="1682" y="25" width="1" height="554"/>
<rect x="0" y="580" width="1683" height="1"/>
<rect x="0" y="749" width="1683" height="1"/>
<rect x="1682" y="580" width="1" height="170"/>
<rect x="0" y="752" width="1683" height="1"/>
<rect x="0" y="926" width="1683" height="1"/>
<rect x="1682" y="752" width="1" height="175"/>
<rect x="1683" y="47" width="2" height="1"/>
<rect x="1683" y="80" width="2" height="1"/>
<rect x="1683" y="113" width="2" height="1"/>
<rect x="1683" y="146" width="2" height="1"/>
<rect x="1683" y="179" width="2" height="1"/>
<rect x="1683" y="212" width="2" height="1"/>
<rect x="1683" y="245" width="2" height="1"/>
<rect x="1683" y="278" width="2" height="1"/>
<rect x="1683" y="311" width="2" height="1"/>
<rect x="1683" y="344" width="2" height="1"/>
<rect x="1683" y="377" width="2" height="1"/>
<rect x="1683" y="410" width="2" height="1"/>
<rect x="1683" y="443" width="2" height="1"/>
<rect x="1683" y="476" width="2" height="1"/>
<rect x="1683" y="509" width="2" height="1"/>
<rect x="1683" y="542" width="2" height="1"/>
<rect x="1683" y="575" width="2" height="1"/>
<rect x="1683" y="582" width="2" height="1"/>
<rect x="1683" y="634" width="2" height="1"/>
<rect x="1683" y="749" width="2" height="1"/>
<rect x="1683" y="754" width="2" height="1"/>
<rect x="-8" y="927" width="1" height="3"/>
<rect x="56" y="927" width="1" height="3"/>
<rect x="120" y="927" width="1" height="3"/>
<rect x="184" y="927" width="1" height="3"/>
<rect x="248" y="927" width="1" height="3"/>
<rect x="312" y="927" width="1" height="3"/>
<rect x="376" y="927" width="1" height="3"/>
<rect x="440" y="927" width="1" height="3"/>
<rect x="504" y="927" width="1" height="3"/>
<rect x="568" y="927" width="1" height="3"/>
<rect x="632" y="927" width="1" height="3"/>
<rect x="696" y="927" width="1" height="3"/>
<rect x="760" y="927" width="1" height="3"/>
<rect x="824" y="927" width="1" height="3"/>
<rect x="888" y="927" width="1" height="3"/>
<rect x="952" y="927" width="1" height="3"/>
<rect x="1016" y="927" width="1" height="3"/>
<rect x="1080" y="927" width="1" height="3"/>
<rect x="1144" y="927" width="1" height="3"/>
<rect x="1208" y="927" width="1" height="3"/>
<rect x="1272" y="927" width="1" height="3"/>
<rect x="1336" y="927" width="1" height="3"/>
<rect x="1400" y="927" width="1" height="3"/>
</g>
<rect x="1728" y="23" width="1" height="917" fill="#e4e4e4" shape-rendering="crispEdges"/>
<polygon points="1423,26 1432,26 1427.5,31.2" fill="#c0c0c0"/>
<g font-family="&quot;Liberation Sans&quot;, &quot;Noto Sans CJK SC&quot;, sans-serif">
<text x="1688" y="51" font-size="9.5" fill="#000" textLength="33.0" lengthAdjust="spacingAndGlyphs" >0.94040</text>
<text x="1688" y="84" font-size="9.5" fill="#000" textLength="33.0" lengthAdjust="spacingAndGlyphs" >0.93630</text>
<text x="1688" y="117" font-size="9.5" fill="#000" textLength="33.0" lengthAdjust="spacingAndGlyphs" >0.93220</text>
<text x="1688" y="150" font-size="9.5" fill="#000" textLength="33.0" lengthAdjust="spacingAndGlyphs" >0.92800</text>
<text x="1688" y="183" font-size="9.5" fill="#000" textLength="33.0" lengthAdjust="spacingAndGlyphs" >0.92390</text>
<text x="1688" y="216" font-size="9.5" fill="#000" textLength="33.0" lengthAdjust="spacingAndGlyphs" >0.91980</text>
<text x="1688" y="249" font-size="9.5" fill="#000" textLength="33.0" lengthAdjust="spacingAndGlyphs" >0.91560</text>
<text x="1688" y="282" font-size="9.5" fill="#000" textLength="32.4" lengthAdjust="spacingAndGlyphs" >0.91150</text>
<text x="1688" y="315" font-size="9.5" fill="#000" textLength="33.0" lengthAdjust="spacingAndGlyphs" >0.90740</text>
<text x="1688" y="348" font-size="9.5" fill="#000" textLength="33.0" lengthAdjust="spacingAndGlyphs" >0.90320</text>
<text x="1688" y="381" font-size="9.5" fill="#000" textLength="33.0" lengthAdjust="spacingAndGlyphs" >0.89910</text>
<text x="1688" y="447" font-size="9.5" fill="#000" textLength="33.0" lengthAdjust="spacingAndGlyphs" >0.89080</text>
<text x="1688" y="513" font-size="9.5" fill="#000" textLength="33.0" lengthAdjust="spacingAndGlyphs" >0.88260</text>
<text x="1688" y="546" font-size="9.5" fill="#000" textLength="33.0" lengthAdjust="spacingAndGlyphs" >0.87840</text>
<text x="1688" y="579" font-size="9.5" fill="#000" textLength="33.0" lengthAdjust="spacingAndGlyphs" >0.87430</text>
<rect x="1684" y="430" width="41" height="11" fill="#000" shape-rendering="crispEdges"/>
<text x="1688" y="439" font-size="10" fill="#fff" textLength="33.0" lengthAdjust="spacingAndGlyphs" >0.89187</text>
<rect x="1684" y="387" width="41" height="11" fill="#ff0000" shape-rendering="crispEdges"/>
<text x="1688" y="396" font-size="10" fill="#fff" textLength="33.0" lengthAdjust="spacingAndGlyphs" >0.89715</text>
<rect x="1684" y="407" width="41" height="11" fill="#ff0000" shape-rendering="crispEdges"/>
<text x="1688" y="416" font-size="10" fill="#fff" textLength="33.0" lengthAdjust="spacingAndGlyphs" >0.89466</text>
<rect x="1684" y="425" width="41" height="11" fill="#ffa500" shape-rendering="crispEdges"/>
<text x="1688" y="434" font-size="10" fill="#fff" textLength="33.0" lengthAdjust="spacingAndGlyphs" >0.89231</text>
<rect x="1684" y="472" width="41" height="11" fill="#0000ff" shape-rendering="crispEdges"/>
<text x="1688" y="481" font-size="10" fill="#fff" textLength="33.0" lengthAdjust="spacingAndGlyphs" >0.88650</text>
<rect x="1684" y="495" width="41" height="11" fill="#0000ff" shape-rendering="crispEdges"/>
<text x="1688" y="504" font-size="10" fill="#fff" textLength="33.0" lengthAdjust="spacingAndGlyphs" >0.88359</text>
<text x="1686" y="591" font-size="9.5" fill="#000" textLength="38.1" lengthAdjust="spacingAndGlyphs" >0.004351</text>
<text x="1686" y="638" font-size="9.5" fill="#000" textLength="17.8" lengthAdjust="spacingAndGlyphs" >0.00</text>
<text x="1686" y="747" font-size="9.5" fill="#000" textLength="41.2" lengthAdjust="spacingAndGlyphs" >-0.009504</text>
<text x="1686" y="763" font-size="9.5" fill="#000" textLength="15.2" lengthAdjust="spacingAndGlyphs" >100</text>
<text x="1685" y="792" font-size="9.5" fill="#000" textLength="10.2" lengthAdjust="spacingAndGlyphs" >80</text>
<text x="1685" y="843" font-size="9.5" fill="#000" textLength="10.2" lengthAdjust="spacingAndGlyphs" >50</text>
<text x="1685" y="904" font-size="9.5" fill="#000" textLength="10.2" lengthAdjust="spacingAndGlyphs" >15</text>
<text x="1686" y="923" font-size="9.5" fill="#000" textLength="5.1" lengthAdjust="spacingAndGlyphs" >0</text>
<text x="-9" y="939" font-size="9.5" fill="#000" textLength="47.3" lengthAdjust="spacingAndGlyphs" >21 Jul 2020</text>
<text x="55" y="939" font-size="9.5" fill="#000" textLength="47.3" lengthAdjust="spacingAndGlyphs" >30 Jul 2020</text>
<text x="119" y="939" font-size="9.5" fill="#000" textLength="46.2" lengthAdjust="spacingAndGlyphs" >9 Aug 2020</text>
<text x="183" y="939" font-size="9.5" fill="#000" textLength="51.3" lengthAdjust="spacingAndGlyphs" >18 Aug 2020</text>
<text x="247" y="939" font-size="9.5" fill="#000" textLength="51.3" lengthAdjust="spacingAndGlyphs" >27 Aug 2020</text>
<text x="311" y="939" font-size="9.5" fill="#000" textLength="46.8" lengthAdjust="spacingAndGlyphs" >6 Sep 2020</text>
<text x="375" y="939" font-size="9.5" fill="#000" textLength="51.8" lengthAdjust="spacingAndGlyphs" >15 Sep 2020</text>
<text x="439" y="939" font-size="9.5" fill="#000" textLength="51.8" lengthAdjust="spacingAndGlyphs" >24 Sep 2020</text>
<text x="503" y="939" font-size="9.5" fill="#000" textLength="44.7" lengthAdjust="spacingAndGlyphs" >4 Oct 2020</text>
<text x="567" y="939" font-size="9.5" fill="#000" textLength="49.8" lengthAdjust="spacingAndGlyphs" >13 Oct 2020</text>
<text x="631" y="939" font-size="9.5" fill="#000" textLength="49.8" lengthAdjust="spacingAndGlyphs" >22 Oct 2020</text>
<text x="695" y="939" font-size="9.5" fill="#000" textLength="46.7" lengthAdjust="spacingAndGlyphs" >1 Nov 2020</text>
<text x="759" y="939" font-size="9.5" fill="#000" textLength="51.8" lengthAdjust="spacingAndGlyphs" >10 Nov 2020</text>
<text x="823" y="939" font-size="9.5" fill="#000" textLength="51.8" lengthAdjust="spacingAndGlyphs" >19 Nov 2020</text>
<text x="887" y="939" font-size="9.5" fill="#000" textLength="51.8" lengthAdjust="spacingAndGlyphs" >29 Nov 2020</text>
<text x="951" y="939" font-size="9.5" fill="#000" textLength="46.7" lengthAdjust="spacingAndGlyphs" >8 Dec 2020</text>
<text x="1015" y="939" font-size="9.5" fill="#000" textLength="51.8" lengthAdjust="spacingAndGlyphs" >17 Dec 2020</text>
<text x="1079" y="939" font-size="9.5" fill="#000" textLength="51.8" lengthAdjust="spacingAndGlyphs" >28 Dec 2020</text>
<text x="1143" y="939" font-size="9.5" fill="#000" textLength="45.2" lengthAdjust="spacingAndGlyphs" >7 Jan 2021</text>
<text x="1207" y="939" font-size="9.5" fill="#000" textLength="50.3" lengthAdjust="spacingAndGlyphs" >17 Jan 2021</text>
<text x="1271" y="939" font-size="9.5" fill="#000" textLength="50.3" lengthAdjust="spacingAndGlyphs" >26 Jan 2021</text>
<text x="1335" y="939" font-size="9.5" fill="#000" textLength="46.2" lengthAdjust="spacingAndGlyphs" >4 Feb 2021</text>
<text x="1399" y="939" font-size="9.5" fill="#000" textLength="51.3" lengthAdjust="spacingAndGlyphs" >14 Feb 2021</text>
<text x="7.6" y="37" font-size="9.5" fill="#000" textLength="67.4" lengthAdjust="spacingAndGlyphs" >USDCHF-,Daily</text>
<text x="81.3" y="37" font-size="9.5" fill="#000" textLength="31.9" lengthAdjust="spacingAndGlyphs" >0.88982</text>
<text x="117.4" y="37" font-size="9.5" fill="#000" textLength="31.9" lengthAdjust="spacingAndGlyphs" >0.89295</text>
<text x="153.5" y="37" font-size="9.5" fill="#000" textLength="31.9" lengthAdjust="spacingAndGlyphs" >0.88704</text>
<text x="189.6" y="37" font-size="9.5" fill="#000" textLength="31.9" lengthAdjust="spacingAndGlyphs" >0.89187</text>
<polygon points="0,36 2,33 2,36" fill="#000"/>
<text x="-3" y="593" font-size="9.5" fill="#000" textLength="146.8" lengthAdjust="spacingAndGlyphs" >MACD(12,26,9) 0.000543 0.001782</text>
<text x="-3" y="765" font-size="9.5" fill="#000" textLength="67.1" lengthAdjust="spacingAndGlyphs" >RSI(14) 49.5856</text>
</g>
<g font-family="&quot;Liberation Sans&quot;, &quot;Noto Sans CJK SC&quot;, sans-serif">
<rect x="1294" y="427" width="167" height="7" fill="#00ff00" shape-rendering="crispEdges"/>
<rect x="1473.5" y="441.5" width="110" height="24" fill="none" stroke="#404040" stroke-width="1" shape-rendering="crispEdges"/>
<text x="1474.5" y="460.5" font-size="21" fill="#00ff00" font-family="&quot;Noto Sans CJK SC&quot;, sans-serif" font-weight="300" textLength="105.5" lengthAdjust="spacingAndGlyphs">多空转折点</text>
</g>
<rect x="1407.5" y="471.5" width="3" height="3" fill="#fff" stroke="#ff0000" stroke-width="1" shape-rendering="crispEdges"/>
<rect x="1526.5" y="439.5" width="2" height="2" fill="#fff" stroke="#ff00ff" stroke-width="1" shape-rendering="crispEdges"/>
<line x1="1134.0" y1="560.0" x2="1205.2" y2="445.6" stroke="#ff0000" stroke-width="3.4"/>
<polygon points="1210.0,438.0 1208.9,450.2 1199.5,444.4" fill="#ff0000"/>
<line x1="1210.0" y1="438.0" x2="1245.7" y2="487.7" stroke="#ff0000" stroke-width="3.4"/>
<polygon points="1251.0,495.0 1240.1,489.3 1249.0,482.9" fill="#ff0000"/>
<line x1="1253.0" y1="490.0" x2="1337.5" y2="342.8" stroke="#ff0000" stroke-width="3.4"/>
<polygon points="1342.0,335.0 1341.3,347.3 1331.8,341.8" fill="#ff0000"/>
<line x1="1342.0" y1="335.0" x2="1383.0" y2="451.5" stroke="#ff0000" stroke-width="3.4"/>
<polygon points="1386.0,460.0 1377.2,451.5 1387.5,447.8" fill="#ff0000"/>
<line x1="1386.0" y1="460.0" x2="1417.2" y2="453.8" stroke="#ff0000" stroke-width="3.4"/>
<polygon points="1426.0,452.0 1416.3,459.6 1414.1,448.8" fill="#ff0000"/>
<line x1="1077.0" y1="704.5" x2="1361.9" y2="596.8" stroke="#ff0000" stroke-width="2.8"/>
<polygon points="1369.4,594.0 1361.6,601.7 1358.5,593.3" fill="#ff0000"/>
<line x1="1369.4" y1="594.0" x2="1408.5" y2="627.6" stroke="#ff0000" stroke-width="2.8"/>
<polygon points="1414.6,632.8 1404.1,629.7 1409.9,622.9" fill="#ff0000"/>
<line x1="1131.5" y1="873.6" x2="1329.7" y2="807.7" stroke="#ff0000" stroke-width="2.8"/>
<polygon points="1337.3,805.2 1329.2,812.6 1326.4,804.1" fill="#ff0000"/>
<line x1="1337.3" y1="805.2" x2="1414.4" y2="846.4" stroke="#ff0000" stroke-width="2.8"/>
<polygon points="1421.5,850.2 1410.6,849.5 1414.8,841.5" fill="#ff0000"/>
<g shape-rendering="crispEdges">
<rect x="0" y="43" width="215" height="68" fill="#fff"/>
<rect x="0" y="45" width="47" height="24" fill="url(#gTab)"/>
<rect x="0" y="69" width="104" height="40" fill="url(#gBig)"/>
<rect x="162" y="45" width="52" height="24" fill="url(#gTab)"/>
<rect x="106" y="69" width="108" height="40" fill="url(#gBig)"/>
<rect x="0" y="68" width="44" height="1" fill="#8c0000"/>
<rect x="0" y="69" width="44" height="1" fill="#e86060"/>
<rect x="166" y="68" width="44" height="1" fill="#8c0000"/>
<rect x="166" y="69" width="44" height="1" fill="#e86060"/>
<rect x="49.5" y="45.5" width="110" height="21" fill="#fff" stroke="#a8a8a8" stroke-width="1"/>
<rect x="50.5" y="46.5" width="19" height="19" fill="url(#gBtn)" stroke="#c8c8c8" stroke-width="1"/>
<rect x="70" y="46" width="1" height="20" fill="#a8a8a8"/>
<rect x="139.5" y="46.5" width="19" height="19" fill="url(#gBtn)" stroke="#c8c8c8" stroke-width="1"/>
<rect x="138" y="46" width="1" height="20" fill="#a8a8a8"/>
</g>
<polygon points="56.5,54 62.5,54 59.5,57" fill="#4050b0"/>
<polygon points="145.5,57 151.5,57 148.5,54" fill="#4050b0"/>
<g font-family="&quot;Liberation Sans&quot;, &quot;Noto Sans CJK SC&quot;, sans-serif" fill="#fff">
<text x="111.7" y="60" font-size="11.5" fill="#000" textLength="23.0" lengthAdjust="spacingAndGlyphs" >1.00</text>
<text x="7.5" y="61" font-size="12" fill="#fff" textLength="25.2" lengthAdjust="spacingAndGlyphs" >SELL</text>
<text x="175.7" y="61" font-size="12" fill="#fff" textLength="23.1" lengthAdjust="spacingAndGlyphs" >BUY</text>
<text x="15" y="100" font-size="12.5" fill="#fff" font-weight="bold" textLength="23.6" lengthAdjust="spacingAndGlyphs" >0.89</text>
<text x="124.8" y="100" font-size="12.5" fill="#fff" font-weight="bold" textLength="23.2" lengthAdjust="spacingAndGlyphs" >0.89</text>
<text x="43.6" y="100" font-size="33.5" fill="#fff" textLength="33.2" lengthAdjust="spacingAndGlyphs" >18</text>
<text x="153.8" y="100" font-size="33.5" fill="#fff" textLength="33.6" lengthAdjust="spacingAndGlyphs" >25</text>
<text x="82" y="84" font-size="11.5" fill="#fff" font-weight="bold" textLength="6.6" lengthAdjust="spacingAndGlyphs" >7</text>
<text x="192.6" y="84" font-size="11.5" fill="#fff" font-weight="bold" textLength="7.4" lengthAdjust="spacingAndGlyphs" >9</text>
</g>
<g id="toolbar">
<rect x="0" y="0" width="1729" height="21" fill="#f0f0f0"/>
<rect x="0" y="21" width="1729" height="1" fill="#a0a0a0" shape-rendering="crispEdges"/>
<rect x="0" y="22" width="1729" height="1" fill="#686868" shape-rendering="crispEdges"/>
<rect x="-6.5" y="2.5" width="12" height="13" rx="1" fill="#fff" stroke="#3a7cc8" stroke-width="1.5"/>
<rect x="-5" y="5" width="9" height="1" fill="#b8d0f0"/>
<rect x="-5" y="7" width="9" height="1" fill="#b8d0f0"/>
<rect x="-5" y="9" width="9" height="1" fill="#b8d0f0"/>
<rect x="-5" y="11" width="9" height="1" fill="#b8d0f0"/>
<rect x="18.5" y="1.5" width="12" height="13" fill="#fff" stroke="#b4ac98"/>
<path d="M21 3 v9 M21 6 h2 M27 3 v6" stroke="#707070" fill="none"/>
<line x1="30" y1="13.5" x2="34.5" y2="18" stroke="#c89818" stroke-width="2.5"/>
<circle cx="26.5" cy="10" r="5" fill="#e0eef8" stroke="#6a9ad8" stroke-width="1.2"/>
<rect x="25" y="8" width="2" height="4" fill="#9ab0c8"/>
<rect x="43" y="0" width="1" height="19" fill="#a0a0a0" shape-rendering="crispEdges"/>
<path d="M53.5 1.5 h8 l3.5 3.5 v9.5 h-11.5 z" fill="#fff" stroke="#606060"/>
<rect x="55" y="4" width="3" height="1.5" fill="#707070"/>
<rect x="55" y="7" width="6" height="1" fill="#808080"/>
<rect x="55" y="9.5" width="6" height="1" fill="#808080"/>
<rect x="55" y="12" width="6" height="1" fill="#808080"/>
<path d="M61.5 7.5 h4 v3.5 h3.5 v4 h-3.5 v3.5 h-4 v-3.5 h-3.5 v-4 h3.5 z" fill="#22d022" stroke="#0c900c" stroke-width="0.8"/>
<text x="72" y="12.5" font-size="12" font-family="&quot;Liberation Sans&quot;, &quot;Noto Sans CJK SC&quot;, sans-serif" fill="#000" textLength="36" lengthAdjust="spacingAndGlyphs">新订单</text>
<path d="M121 11 L127 3 L135 8 L130 16 Z" fill="#e8b820" stroke="#a06810" stroke-width="1"/>
<path d="M130 16 L135 9 L136 11 L131 17.5 Z" fill="#f0e0a0" stroke="#a06810" stroke-width="0.8"/>
<path d="M149 2 h11 v9 h-11 z" fill="#1890f0" stroke="#0a60c0"/>
<rect x="155" y="4" width="4" height="2" fill="#e0f0ff"/>
<path d="M150 16 q-2.5 0 -1.5 -3 q1 -2 3 -1.5 q1 -3 4.5 -2.5 q3 0.5 3 3 q3 -0.5 4 1.5 q0.5 2.5 -2 2.5 z" fill="#e4ecf8" stroke="#4a68a0" stroke-width="1"/>
<circle cx="183.7" cy="8.8" r="7.5" fill="none" stroke="#9ab8e8" stroke-width="1.1"/>
<path d="M185.20 1.45 A7.5 7.5 0 0 1 183.7 16.3" fill="none" stroke="#8ac898" stroke-width="1.2"/>
<circle cx="183.7" cy="8.8" r="5" fill="none" stroke="#5a88d8" stroke-width="1.1"/>
<path d="M184.70 3.90 A5 5 0 0 1 183.7 13.8" fill="none" stroke="#58b068" stroke-width="1.2"/>
<circle cx="183.7" cy="8.8" r="2.5" fill="none" stroke="#2050c0" stroke-width="1.1"/>
<path d="M184.20 6.35 A2.5 2.5 0 0 1 183.7 11.3" fill="none" stroke="#2a9a3a" stroke-width="1.2"/>
<path d="M184 9 v8" stroke="#20a030" stroke-width="1.4" fill="none"/>
<circle cx="183.7" cy="8.6" r="1.6" fill="#1848c0"/>
<path d="M204 10 L212 17 L219 12 L217 7 Z" fill="#f4d030" stroke="#c09010" stroke-width="0.8"/>
<ellipse cx="211" cy="5.5" rx="7.5" ry="3" fill="#58b0e0" stroke="#2880b8" stroke-width="0.8"/>
<ellipse cx="211" cy="4" rx="3.5" ry="3" fill="#60b8e8" stroke="#2880b8" stroke-width="0.8"/>
<circle cx="215.5" cy="12.8" r="4.5" fill="#e02010" stroke="#a01008" stroke-width="0.6"/>
<rect x="213.8" y="11.1" width="3.4" height="3.4" fill="#fff"/>
<text x="224.8" y="12.5" font-size="12" font-family="&quot;Liberation Sans&quot;, &quot;Noto Sans CJK SC&quot;, sans-serif" fill="#000" textLength="46" lengthAdjust="spacingAndGlyphs">自动交易</text>
<rect x="279" y="0" width="1" height="19" fill="#909090" shape-rendering="crispEdges"/>
<rect x="283.5" y="1" width="3" height="1" fill="#a8a8a8" shape-rendering="crispEdges"/>
<rect x="283.5" y="3" width="3" height="1" fill="#a8a8a8" shape-rendering="crispEdges"/>
<rect x="283.5" y="5" width="3" height="1" fill="#a8a8a8" shape-rendering="crispEdges"/>
<rect x="283.5" y="7" width="3" height="1" fill="#a8a8a8" shape-rendering="crispEdges"/>
<rect x="283.5" y="9" width="3" height="1" fill="#a8a8a8" shape-rendering="crispEdges"/>
<rect x="283.5" y="11" width="3" height="1" fill="#a8a8a8" shape-rendering="crispEdges"/>
<rect x="283.5" y="13" width="3" height="1" fill="#a8a8a8" shape-rendering="crispEdges"/>
<rect x="283.5" y="15" width="3" height="1" fill="#a8a8a8" shape-rendering="crispEdges"/>
<rect x="283.5" y="17" width="3" height="1" fill="#a8a8a8" shape-rendering="crispEdges"/>
<g stroke="#505050" stroke-width="1.3" fill="none"><line x1="297.4" y1="3" x2="297.4" y2="17"/><line x1="295.4" y1="14" x2="308.4" y2="14"/></g><polygon points="295.4,4.5 299.4,4.5 297.4,2" fill="#505050"/><polygon points="307.4,12 307.4,16 309.9,14" fill="#505050"/>
<path d="M303.5 4.5 v8 M303.5 5 h2.5 M303.5 11.5 h-2" stroke="#10a010" stroke-width="1.3" fill="none"/>
<rect x="317" y="0" width="1" height="19" fill="#909090" shape-rendering="crispEdges"/>
<rect x="318" y="0" width="24" height="19" fill="url(#chk)"/>
<g stroke="#505050" stroke-width="1.3" fill="none"><line x1="325.4" y1="3" x2="325.4" y2="17"/><line x1="323.4" y1="14" x2="336.4" y2="14"/></g><polygon points="323.4,4.5 327.4,4.5 325.4,2" fill="#505050"/><polygon points="335.4,12 335.4,16 337.9,14" fill="#505050"/>
<line x1="331.5" y1="1" x2="331.5" y2="13" stroke="#10a010" stroke-width="1.2"/>
<rect x="329.5" y="3.5" width="4.5" height="7.5" fill="#40e040" stroke="#108010"/>
<g stroke="#505050" stroke-width="1.3" fill="none"><line x1="353.4" y1="3" x2="353.4" y2="17"/><line x1="351.4" y1="14" x2="364.4" y2="14"/></g><polygon points="351.4,4.5 355.4,4.5 353.4,2" fill="#505050"/><polygon points="363.4,12 363.4,16 365.9,14" fill="#505050"/>
<path d="M352 12 Q356 7 358 6.5 Q360 6 362 8.5 Q363.5 10 365 10.5" stroke="#30a030" stroke-width="1.2" fill="none"/>
<rect x="374" y="0" width="1" height="19" fill="#909090" shape-rendering="crispEdges"/>
<line x1="392.9" y1="10.5" x2="397.9" y2="16" stroke="#c8a010" stroke-width="2.6"/>
<circle cx="388.9" cy="6.9" r="5.6" fill="#dceefa" stroke="#3a78c8" stroke-width="1.2"/>
<rect x="385.4" y="6" width="7" height="2" fill="#4a88b8"/>
<rect x="387.9" y="3.4" width="2" height="7" fill="#4a88b8"/>
<line x1="420.9" y1="10.5" x2="425.9" y2="16" stroke="#c8a010" stroke-width="2.6"/>
<circle cx="416.9" cy="6.9" r="5.6" fill="#dceefa" stroke="#3a78c8" stroke-width="1.2"/>
<rect x="413.4" y="6" width="7" height="2" fill="#4a88b8"/>
<rect x="439" y="1" width="8" height="8" fill="#30a020"/>
<rect x="440.5" y="4" width="5" height="3.5" fill="#fff"/>
<rect x="447" y="1" width="8" height="8" fill="#1850d0"/>
<rect x="448.5" y="4" width="5" height="3.5" fill="#fff"/>
<rect x="439" y="9" width="8" height="8" fill="#1850d0"/>
<rect x="440.5" y="12" width="5" height="3.5" fill="#fff"/>
<rect x="447" y="9" width="8" height="8" fill="#30a020"/>
<rect x="448.5" y="12" width="5" height="3.5" fill="#fff"/>
<rect x="464" y="0" width="1" height="19" fill="#909090" shape-rendering="crispEdges"/>
<rect x="469" y="0" width="1" height="19" fill="#909090" shape-rendering="crispEdges"/>
<rect x="470" y="0" width="24" height="19" fill="url(#chk)"/>
<g stroke="#505050" stroke-width="1.3" fill="none"><line x1="477.4" y1="3" x2="477.4" y2="17"/><line x1="475.4" y1="14" x2="488.4" y2="14"/></g><polygon points="475.4,4.5 479.4,4.5 477.4,2" fill="#505050"/><polygon points="487.4,12 487.4,16 489.9,14" fill="#505050"/>
<polygon points="482.5,5 482.5,12 486.5,8.5" fill="#40d040" stroke="#10a010" stroke-width="0.8"/>
<rect x="497" y="0" width="1" height="19" fill="#909090" shape-rendering="crispEdges"/>
<rect x="498" y="0" width="24" height="19" fill="url(#chk)"/>
<g stroke="#505050" stroke-width="1.3" fill="none"><line x1="505.4" y1="3" x2="505.4" y2="17"/><line x1="503.4" y1="14" x2="516.4" y2="14"/></g><polygon points="503.4,4.5 507.4,4.5 505.4,2" fill="#505050"/><polygon points="515.4,12 515.4,16 517.9,14" fill="#505050"/>
<line x1="511.5" y1="3" x2="511.5" y2="13" stroke="#1070c0" stroke-width="1.2"/>
<polygon points="512.5,8.5 516,6 516,11" fill="#e05010"/><rect x="515" y="8" width="3" height="1.2" fill="#e05010"/>
<rect x="526" y="0" width="1" height="19" fill="#909090" shape-rendering="crispEdges"/>
<path d="M536.5 2.0 h8 l3.5 3.5 v9.5 h-11.5 z" fill="#fff" stroke="#606060"/>
<rect x="538" y="4.5" width="3" height="1.5" fill="#707070"/>
<rect x="538" y="7.5" width="6" height="1" fill="#808080"/>
<rect x="538" y="10.0" width="6" height="1" fill="#808080"/>
<rect x="538" y="12.5" width="6" height="1" fill="#808080"/>
<path d="M544.2 7.5 h4 v3.5 h3.5 v4 h-3.5 v3.5 h-4 v-3.5 h-3.5 v-4 h3.5 z" fill="#22d022" stroke="#0c900c" stroke-width="0.8"/>
<polygon points="557.6,8 563.6,8 560.6,11" fill="#000"/>
<circle cx="581.9" cy="8.7" r="7.8" fill="#1a6ad0"/>
<circle cx="581.9" cy="8.7" r="5.6" fill="#f4f8ff"/>
<path d="M581.9 4.5 v4.5 h3" stroke="#202020" stroke-width="1.2" fill="none"/>
<polygon points="596.6,8 602.6,8 599.6,11" fill="#000"/>
<rect x="613.5" y="2.5" width="15" height="13" fill="#fff" stroke="#3a70c0"/>
<rect x="614" y="3" width="14" height="2" fill="#5a90d8"/>
<path d="M615 9 l3 -1 l3 0.5 l3 -1.5 l3 0.5" stroke="#a02010" fill="none"/>
<rect x="614" y="10" width="14" height="1" fill="#3a70c0"/>
<path d="M615 14 l3 -1 l3 0.5 l3 -2 l3 1.5" stroke="#10a020" fill="none"/>
<polygon points="635.7,8 641.7,8 638.7,11" fill="#000"/>
<rect x="647" y="0" width="1" height="21" fill="#808080" shape-rendering="crispEdges"/>
<rect x="651.6" y="1" width="3" height="1" fill="#a8a8a8" shape-rendering="crispEdges"/>
<rect x="651.6" y="3" width="3" height="1" fill="#a8a8a8" shape-rendering="crispEdges"/>
<rect x="651.6" y="5" width="3" height="1" fill="#a8a8a8" shape-rendering="crispEdges"/>
<rect x="651.6" y="7" width="3" height="1" fill="#a8a8a8" shape-rendering="crispEdges"/>
<rect x="651.6" y="9" width="3" height="1" fill="#a8a8a8" shape-rendering="crispEdges"/>
<rect x="651.6" y="11" width="3" height="1" fill="#a8a8a8" shape-rendering="crispEdges"/>
<rect x="651.6" y="13" width="3" height="1" fill="#a8a8a8" shape-rendering="crispEdges"/>
<rect x="651.6" y="15" width="3" height="1" fill="#a8a8a8" shape-rendering="crispEdges"/>
<rect x="651.6" y="17" width="3" height="1" fill="#a8a8a8" shape-rendering="crispEdges"/>
<rect x="657" y="0" width="1" height="19" fill="#909090" shape-rendering="crispEdges"/>
<rect x="658" y="0" width="24" height="19" fill="url(#chk)"/>
<path d="M665 2.5 L665 15 L668 12 L670.5 17 L672.5 16 L670 11 L673.5 10.5 Z" fill="#505050"/>
<path d="M689.5 9.5 h15.5 M697.5 1.5 v15.5" stroke="#505050" stroke-width="1" shape-rendering="crispEdges"/>
<rect x="714" y="0" width="1" height="19" fill="#a0a0a0" shape-rendering="crispEdges"/>
<rect x="731" y="3" width="1.3" height="13" fill="#404040"/>
<rect x="754" y="9" width="12" height="1.3" fill="#404040"/>
<line x1="782" y1="16" x2="794" y2="4" stroke="#404040" stroke-width="1.2"/>
<path d="M808 10 L818 2 M810 15 L820 7 M812 18 L822 9 M810 6 L812 15 M815 4 L817 13 M819 3 L821 11" stroke="#404040" stroke-width="1" fill="none"/>
<text x="819" y="18" font-size="7" font-weight="bold" font-family="&quot;Liberation Sans&quot;, &quot;Noto Sans CJK SC&quot;, sans-serif" fill="#404040">E</text>
<line x1="837" y1="2.5" x2="851" y2="2.5" stroke="#505050" stroke-width="1" stroke-dasharray="1 1"/>
<line x1="837" y1="5.5" x2="851" y2="5.5" stroke="#505050" stroke-width="1" stroke-dasharray="1 1"/>
<line x1="837" y1="9.5" x2="851" y2="9.5" stroke="#505050" stroke-width="1" stroke-dasharray="1 1"/>
<line x1="837" y1="13.5" x2="851" y2="13.5" stroke="#505050" stroke-width="1" stroke-dasharray="1 1"/>
<text x="847" y="18" font-size="7" font-weight="bold" font-family="&quot;Liberation Sans&quot;, &quot;Noto Sans CJK SC&quot;, sans-serif" fill="#404040">F</text>
<text x="867.5" y="14" font-size="12" font-weight="bold" font-family="&quot;Liberation Sans&quot;, &quot;Noto Sans CJK SC&quot;, sans-serif" fill="#505050">A</text>
<rect x="894" y="3.5" width="11.5" height="12" fill="none" stroke="#505050" stroke-dasharray="1 1"/>
<text x="896" y="13.5" font-size="11" font-weight="bold" font-family="&quot;Liberation Sans&quot;, &quot;Noto Sans CJK SC&quot;, sans-serif" fill="#505050">T</text>
<path d="M921 6 l3 -3 l3 3 l-3 3 z M929 13 l3 -3 l3 3 l-3 3 z" fill="#404040"/><path d="M924 10 l2 2 l4 -5" stroke="#404040" stroke-width="1.4" fill="none"/>
<polygon points="942,8 948,8 945,11" fill="#000"/>
<rect x="953" y="0" width="1" height="21" fill="#808080" shape-rendering="crispEdges"/>
<rect x="957.4" y="1" width="3" height="1" fill="#a8a8a8" shape-rendering="crispEdges"/>
<rect x="957.4" y="3" width="3" height="1" fill="#a8a8a8" shape-rendering="crispEdges"/>
<rect x="957.4" y="5" width="3" height="1" fill="#a8a8a8" shape-rendering="crispEdges"/>
<rect x="957.4" y="7" width="3" height="1" fill="#a8a8a8" shape-rendering="crispEdges"/>
<rect x="957.4" y="9" width="3" height="1" fill="#a8a8a8" shape-rendering="crispEdges"/>
<rect x="957.4" y="11" width="3" height="1" fill="#a8a8a8" shape-rendering="crispEdges"/>
<rect x="957.4" y="13" width="3" height="1" fill="#a8a8a8" shape-rendering="crispEdges"/>
<rect x="957.4" y="15" width="3" height="1" fill="#a8a8a8" shape-rendering="crispEdges"/>
<rect x="957.4" y="17" width="3" height="1" fill="#a8a8a8" shape-rendering="crispEdges"/>
<text x="968.3" y="13" font-size="10" font-family="&quot;Liberation Sans&quot;, &quot;Noto Sans CJK SC&quot;, sans-serif" fill="#303030" textLength="13.7" lengthAdjust="spacingAndGlyphs">M1</text>
<text x="996" y="13" font-size="10" font-family="&quot;Liberation Sans&quot;, &quot;Noto Sans CJK SC&quot;, sans-serif" fill="#303030" textLength="14" lengthAdjust="spacingAndGlyphs">M5</text>
<text x="1022" y="13" font-size="10" font-family="&quot;Liberation Sans&quot;, &quot;Noto Sans CJK SC&quot;, sans-serif" fill="#303030" textLength="18" lengthAdjust="spacingAndGlyphs">M15</text>
<text x="1050.5" y="13" font-size="10" font-family="&quot;Liberation Sans&quot;, &quot;Noto Sans CJK SC&quot;, sans-serif" fill="#303030" textLength="18.3" lengthAdjust="spacingAndGlyphs">M30</text>
<text x="1081.5" y="13" font-size="10" font-family="&quot;Liberation Sans&quot;, &quot;Noto Sans CJK SC&quot;, sans-serif" fill="#303030" textLength="12.8" lengthAdjust="spacingAndGlyphs">H1</text>
<text x="1108.7" y="13" font-size="10" font-family="&quot;Liberation Sans&quot;, &quot;Noto Sans CJK SC&quot;, sans-serif" fill="#303030" textLength="12.1" lengthAdjust="spacingAndGlyphs">H4</text>
<rect x="1131" y="0" width="1" height="19" fill="#909090" shape-rendering="crispEdges"/>
<rect x="1132" y="0" width="25" height="19" fill="url(#chk)"/>
<text x="1137.8" y="13" font-size="10" font-family="&quot;Liberation Sans&quot;, &quot;Noto Sans CJK SC&quot;, sans-serif" fill="#303030" textLength="11.1" lengthAdjust="spacingAndGlyphs">D1</text>
<text x="1164.9" y="13" font-size="10" font-family="&quot;Liberation Sans&quot;, &quot;Noto Sans CJK SC&quot;, sans-serif" fill="#303030" textLength="14.2" lengthAdjust="spacingAndGlyphs">W1</text>
<text x="1192" y="13" font-size="10" font-family="&quot;Liberation Sans&quot;, &quot;Noto Sans CJK SC&quot;, sans-serif" fill="#303030" textLength="14.2" lengthAdjust="spacingAndGlyphs">MN</text>
<rect x="1214" y="0" width="1" height="20" fill="#909090" shape-rendering="crispEdges"/>
<line x1="1681.5" y1="9.5" x2="1677.5" y2="14" stroke="#2050d0" stroke-width="2.2"/>
<circle cx="1684.5" cy="6.4" r="3.9" fill="#f4f4ff" stroke="#2050d0" stroke-width="1.5"/>
<path d="M1703 16 l1 -3 q-3 -1 -2.5 -4 q1 -4 6 -4 q5 0 5.5 4 q0 4 -6 4.5 z" fill="#dcdcec" stroke="#909090" stroke-width="0.8"/>
<circle cx="1715.5" cy="6.8" r="8.2" fill="url(#gBadge)"/>
<text x="1712.2" y="11" font-size="11" font-family="&quot;Liberation Serif&quot;, serif" fill="#fff" font-weight="bold">1</text>
</g>
</svg>
</body></html>
